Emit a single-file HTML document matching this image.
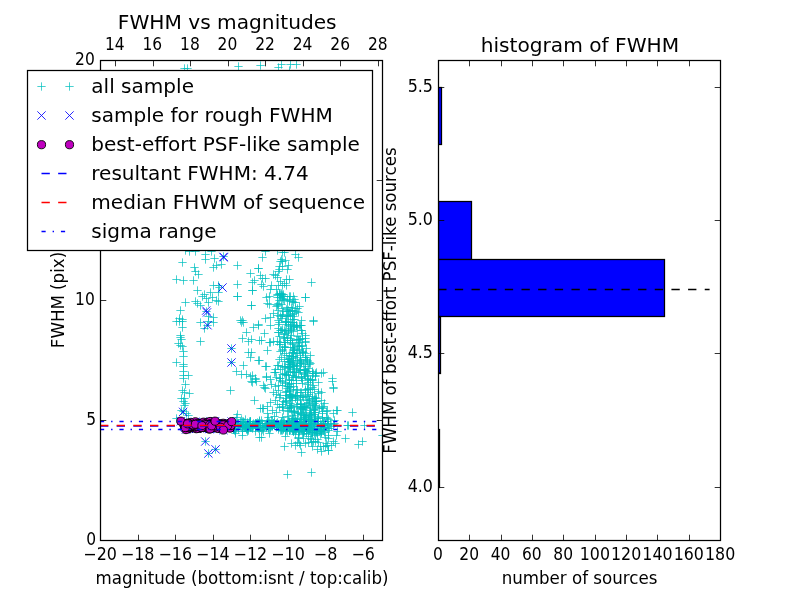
<!DOCTYPE html>
<html lang="en">
<head>
<meta charset="utf-8">
<title>FWHM vs magnitudes</title>
<style>
html,body{margin:0;padding:0;background:#fff;}
body{width:800px;height:600px;overflow:hidden;}
svg{display:block;}
text{font-family:"DejaVu Sans","Liberation Sans",sans-serif;fill:#000;}
.t{font-size:16.67px;}
.b{font-size:20px;}
.tk{stroke:#000;stroke-width:0.8;fill:none;}
.fr{stroke:#000;stroke-width:1.25;fill:none;stroke-linecap:square;}
.p{stroke:#00bfbf;stroke-width:0.72;fill:none;}
.x{stroke:#0000ff;stroke-width:0.85;fill:none;}
.c{fill:#bf00bf;stroke:#000;stroke-width:0.9;}
.ln{fill:none;stroke-width:1.4;}
</style>
</head>
<body>
<svg width="800" height="600" viewBox="0 0 800 600">
<rect x="0" y="0" width="800" height="600" fill="#fff"/>
<defs>
<clipPath id="c1"><rect x="100.5" y="60.5" width="282.0" height="480.0"/></clipPath>
<clipPath id="c2"><rect x="438.5" y="60.5" width="282.0" height="480.0"/></clipPath>
</defs>
<g clip-path="url(#c1)">
<path class="p" d="M180.33 68.5h8.34M184.5 64.33v8.34M183.33 68.5h8.34M187.5 64.33v8.34M234.33 66.5h8.34M238.5 62.33v8.34M256.33 65.5h8.34M260.5 61.33v8.34M274.33 67.5h8.34M278.5 63.33v8.34M277.33 64.5h8.34M281.5 60.33v8.34M286.33 64.5h8.34M290.5 60.33v8.34M285.33 70.5h8.34M289.5 66.33v8.34M292.33 64.5h8.34M296.5 60.33v8.34M178.33 262.5h8.34M182.5 258.33v8.34M190.33 267.5h8.34M194.5 263.33v8.34M191.33 271.5h8.34M195.5 267.33v8.34M194.33 274.5h8.34M198.5 270.33v8.34M172.33 279.5h8.34M176.5 275.33v8.34M179.33 280.5h8.34M183.5 276.33v8.34M189.33 280.5h8.34M193.5 276.33v8.34M201.33 254.5h8.34M205.5 250.33v8.34M201.33 259.5h8.34M205.5 255.33v8.34M210.33 258.5h8.34M214.5 254.33v8.34M191.33 251.5h8.34M195.5 247.33v8.34M185.33 251.5h8.34M189.5 247.33v8.34M181.33 250.5h8.34M185.5 246.33v8.34M207.33 251.5h8.34M211.5 247.33v8.34M219.33 256.5h8.34M223.5 252.33v8.34M217.33 264.5h8.34M221.5 260.33v8.34M212.33 265.5h8.34M216.5 261.33v8.34M209.33 267.5h8.34M213.5 263.33v8.34M233.33 265.5h8.34M237.5 261.33v8.34M246.33 273.5h8.34M250.5 269.33v8.34M254.33 268.5h8.34M258.5 264.33v8.34M256.33 275.5h8.34M260.5 271.33v8.34M250.33 280.5h8.34M254.5 276.33v8.34M248.33 282.5h8.34M252.5 278.33v8.34M248.33 290.5h8.34M252.5 286.33v8.34M233.33 284.5h8.34M237.5 280.33v8.34M233.33 296.5h8.34M237.5 292.33v8.34M247.33 305.5h8.34M251.5 301.33v8.34M209.33 285.5h8.34M213.5 281.33v8.34M214.33 285.5h8.34M218.5 281.33v8.34M215.33 287.5h8.34M219.5 283.33v8.34M193.33 290.5h8.34M197.5 286.33v8.34M206.33 292.5h8.34M210.5 288.33v8.34M214.33 292.5h8.34M218.5 288.33v8.34M200.33 294.5h8.34M204.5 290.33v8.34M198.33 296.5h8.34M202.5 292.33v8.34M202.33 298.5h8.34M206.5 294.33v8.34M208.33 297.5h8.34M212.5 293.33v8.34M212.33 300.5h8.34M216.5 296.33v8.34M214.33 301.5h8.34M218.5 297.33v8.34M204.33 302.5h8.34M208.5 298.33v8.34M181.33 302.5h8.34M185.5 298.33v8.34M191.33 301.5h8.34M195.5 297.33v8.34M193.33 303.5h8.34M197.5 299.33v8.34M196.33 305.5h8.34M200.5 301.33v8.34M176.33 310.5h8.34M180.5 306.33v8.34M175.33 318.5h8.34M179.5 314.33v8.34M178.33 319.5h8.34M182.5 315.33v8.34M204.33 316.5h8.34M208.5 312.33v8.34M209.33 317.5h8.34M213.5 313.33v8.34M202.33 311.5h8.34M206.5 307.33v8.34M238.33 320.5h8.34M242.5 316.33v8.34M236.33 320.5h8.34M240.5 316.33v8.34M258.33 257.5h8.34M262.5 253.33v8.34M261.33 251.5h8.34M265.5 247.33v8.34M273.33 250.5h8.34M277.5 246.33v8.34M278.33 252.5h8.34M282.5 248.33v8.34M280.33 252.5h8.34M284.5 248.33v8.34M291.33 254.5h8.34M295.5 250.33v8.34M294.33 257.5h8.34M298.5 253.33v8.34M277.33 259.5h8.34M281.5 255.33v8.34M281.33 260.5h8.34M285.5 256.33v8.34M276.33 261.5h8.34M280.5 257.33v8.34M278.33 261.5h8.34M282.5 257.33v8.34M284.33 265.5h8.34M288.5 261.33v8.34M275.33 266.5h8.34M279.5 262.33v8.34M278.33 266.5h8.34M282.5 262.33v8.34M283.33 269.5h8.34M287.5 265.33v8.34M275.33 269.5h8.34M279.5 265.33v8.34M274.33 271.5h8.34M278.5 267.33v8.34M269.33 274.5h8.34M273.5 270.33v8.34M271.33 275.5h8.34M275.5 271.33v8.34M273.33 277.5h8.34M277.5 273.33v8.34M258.33 278.5h8.34M262.5 274.33v8.34M261.33 278.5h8.34M265.5 274.33v8.34M282.33 279.5h8.34M286.5 275.33v8.34M285.33 279.5h8.34M289.5 275.33v8.34M276.33 281.5h8.34M280.5 277.33v8.34M280.33 283.5h8.34M284.5 279.33v8.34M282.33 285.5h8.34M286.5 281.33v8.34M278.33 285.5h8.34M282.5 281.33v8.34M274.33 285.5h8.34M278.5 281.33v8.34M267.33 285.5h8.34M271.5 281.33v8.34M259.33 286.5h8.34M263.5 282.33v8.34M266.33 289.5h8.34M270.5 285.33v8.34M272.33 289.5h8.34M276.5 285.33v8.34M307.33 282.5h8.34M311.5 278.33v8.34M257.33 284.5h8.34M261.5 280.33v8.34M254.33 268.5h8.34M258.5 264.33v8.34M301.33 297.5h8.34M305.5 293.33v8.34M172.33 321.5h8.34M176.5 317.33v8.34M175.33 321.5h8.34M179.5 317.33v8.34M178.33 321.5h8.34M182.5 317.33v8.34M178.33 327.5h8.34M182.5 323.33v8.34M196.33 322.5h8.34M200.5 318.33v8.34M204.33 321.5h8.34M208.5 317.33v8.34M209.33 322.5h8.34M213.5 318.33v8.34M200.33 328.5h8.34M204.5 324.33v8.34M203.33 325.5h8.34M207.5 321.33v8.34M196.33 341.5h8.34M200.5 337.33v8.34M176.33 335.5h8.34M180.5 331.33v8.34M176.33 337.5h8.34M180.5 333.33v8.34M177.33 339.5h8.34M181.5 335.33v8.34M174.33 343.5h8.34M178.5 339.33v8.34M176.33 345.5h8.34M180.5 341.33v8.34M178.33 346.5h8.34M182.5 342.33v8.34M179.33 351.5h8.34M183.5 347.33v8.34M179.33 356.5h8.34M183.5 352.33v8.34M172.33 362.5h8.34M176.5 358.33v8.34M179.33 364.5h8.34M183.5 360.33v8.34M179.33 366.5h8.34M183.5 362.33v8.34M179.33 371.5h8.34M183.5 367.33v8.34M179.33 375.5h8.34M183.5 371.33v8.34M184.33 375.5h8.34M188.5 371.33v8.34M179.33 378.5h8.34M183.5 374.33v8.34M181.33 384.5h8.34M185.5 380.33v8.34M178.33 390.5h8.34M182.5 386.33v8.34M180.33 392.5h8.34M184.5 388.33v8.34M185.33 393.5h8.34M189.5 389.33v8.34M227.33 348.5h8.34M231.5 344.33v8.34M227.33 362.5h8.34M231.5 358.33v8.34M226.33 390.5h8.34M230.5 386.33v8.34M237.33 322.5h8.34M241.5 318.33v8.34M239.33 322.5h8.34M243.5 318.33v8.34M249.33 327.5h8.34M253.5 323.33v8.34M254.33 325.5h8.34M258.5 321.33v8.34M242.33 332.5h8.34M246.5 328.33v8.34M238.33 338.5h8.34M242.5 334.33v8.34M244.33 341.5h8.34M248.5 337.33v8.34M247.33 339.5h8.34M251.5 335.33v8.34M255.33 340.5h8.34M259.5 336.33v8.34M244.33 352.5h8.34M248.5 348.33v8.34M247.33 352.5h8.34M251.5 348.33v8.34M246.33 357.5h8.34M250.5 353.33v8.34M254.33 360.5h8.34M258.5 356.33v8.34M239.33 365.5h8.34M243.5 361.33v8.34M232.33 371.5h8.34M236.5 367.33v8.34M237.33 374.5h8.34M241.5 370.33v8.34M242.33 374.5h8.34M246.5 370.33v8.34M246.33 376.5h8.34M250.5 372.33v8.34M248.33 375.5h8.34M252.5 371.33v8.34M251.33 378.5h8.34M255.5 374.33v8.34M247.33 381.5h8.34M251.5 377.33v8.34M252.33 381.5h8.34M256.5 377.33v8.34M233.33 296.5h8.34M237.5 292.33v8.34M248.33 290.5h8.34M252.5 286.33v8.34M247.33 305.5h8.34M251.5 301.33v8.34M254.33 324.5h8.34M258.5 320.33v8.34M257.33 340.5h8.34M261.5 336.33v8.34M260.33 333.5h8.34M264.5 329.33v8.34M261.33 318.5h8.34M265.5 314.33v8.34M263.33 350.5h8.34M267.5 346.33v8.34M266.33 342.5h8.34M270.5 338.33v8.34M262.33 366.5h8.34M266.5 362.33v8.34M262.33 297.5h8.34M266.5 293.33v8.34M265.33 296.5h8.34M269.5 292.33v8.34M263.33 303.5h8.34M267.5 299.33v8.34M265.33 304.5h8.34M269.5 300.33v8.34M266.33 317.5h8.34M270.5 313.33v8.34M269.33 313.5h8.34M273.5 309.33v8.34M266.33 325.5h8.34M270.5 321.33v8.34M301.33 297.5h8.34M305.5 293.33v8.34M309.33 320.5h8.34M313.5 316.33v8.34M297.33 320.5h8.34M301.5 316.33v8.34M295.33 306.5h8.34M299.5 302.33v8.34M301.33 335.5h8.34M305.5 331.33v8.34M301.33 338.5h8.34M305.5 334.33v8.34M301.33 342.5h8.34M305.5 338.33v8.34M302.33 348.5h8.34M306.5 344.33v8.34M306.33 355.5h8.34M310.5 351.33v8.34M306.33 363.5h8.34M310.5 359.33v8.34M312.33 372.5h8.34M316.5 368.33v8.34M317.33 373.5h8.34M321.5 369.33v8.34M319.33 372.5h8.34M323.5 368.33v8.34M328.33 378.5h8.34M332.5 374.33v8.34M329.33 388.5h8.34M333.5 384.33v8.34M265.33 342.5h8.34M269.5 338.33v8.34M269.33 341.5h8.34M273.5 337.33v8.34M255.33 360.5h8.34M259.5 356.33v8.34M261.33 366.5h8.34M265.5 362.33v8.34M260.33 387.5h8.34M264.5 383.33v8.34M262.33 377.5h8.34M266.5 373.33v8.34M309.33 321.5h8.34M313.5 317.33v8.34M177.33 398.5h8.34M181.5 394.33v8.34M180.33 398.5h8.34M184.5 394.33v8.34M179.33 401.5h8.34M183.5 397.33v8.34M181.33 403.5h8.34M185.5 399.33v8.34M180.33 405.5h8.34M184.5 401.33v8.34M177.33 410.5h8.34M181.5 406.33v8.34M182.33 413.5h8.34M186.5 409.33v8.34M184.33 415.5h8.34M188.5 411.33v8.34M172.33 418.5h8.34M176.5 414.33v8.34M179.33 411.5h8.34M183.5 407.33v8.34M233.33 414.5h8.34M237.5 410.33v8.34M250.33 400.5h8.34M254.5 396.33v8.34M256.33 408.5h8.34M260.5 404.33v8.34M231.33 433.5h8.34M235.5 429.33v8.34M201.33 441.5h8.34M205.5 437.33v8.34M211.33 449.5h8.34M215.5 445.33v8.34M204.33 453.5h8.34M208.5 449.33v8.34M255.33 437.5h8.34M259.5 433.33v8.34M258.33 408.5h8.34M262.5 404.33v8.34M257.33 437.5h8.34M261.5 433.33v8.34M280.33 446.5h8.34M284.5 442.33v8.34M297.33 452.5h8.34M301.5 448.33v8.34M295.33 443.5h8.34M299.5 439.33v8.34M313.33 449.5h8.34M317.5 445.33v8.34M317.33 451.5h8.34M321.5 447.33v8.34M324.33 450.5h8.34M328.5 446.33v8.34M341.33 438.5h8.34M345.5 434.33v8.34M333.33 410.5h8.34M337.5 406.33v8.34M344.33 425.5h8.34M348.5 421.33v8.34M329.33 387.5h8.34M333.5 383.33v8.34M328.33 381.5h8.34M332.5 377.33v8.34M348.33 412.5h8.34M352.5 408.33v8.34M332.33 410.5h8.34M336.5 406.33v8.34M354.33 444.5h8.34M358.5 440.33v8.34M358.33 441.5h8.34M362.5 437.33v8.34M343.33 425.5h8.34M347.5 421.33v8.34M360.33 425.5h8.34M364.5 421.33v8.34M378.33 435.5h8.34M382.5 431.33v8.34M283.33 474.5h8.34M287.5 470.33v8.34M307.33 472.5h8.34M311.5 468.33v8.34M323.33 445.5h8.34M327.5 441.33v8.34M327.33 445.5h8.34M331.5 441.33v8.34M331.33 443.5h8.34M335.5 439.33v8.34M321.33 446.5h8.34M325.5 442.33v8.34M307.33 442.5h8.34M311.5 438.33v8.34M309.33 441.5h8.34M313.5 437.33v8.34M323.33 410.5h8.34M327.5 406.33v8.34M323.33 418.5h8.34M327.5 414.33v8.34M329.33 413.5h8.34M333.5 409.33v8.34M326.33 423.5h8.34M330.5 419.33v8.34M333.33 431.5h8.34M337.5 427.33v8.34M332.33 435.5h8.34M336.5 431.33v8.34M329.33 441.5h8.34M333.5 437.33v8.34M322.33 443.5h8.34M326.5 439.33v8.34M324.33 450.5h8.34M328.5 446.33v8.34M285.33 301.5h8.34M289.5 297.33v8.34M278.33 294.5h8.34M282.5 290.33v8.34M273.33 294.5h8.34M277.5 290.33v8.34M273.33 304.5h8.34M277.5 300.33v8.34M277.33 304.5h8.34M281.5 300.33v8.34M290.33 299.5h8.34M294.5 295.33v8.34M293.33 308.5h8.34M297.5 304.33v8.34M279.33 294.5h8.34M283.5 290.33v8.34M278.33 296.5h8.34M282.5 292.33v8.34M286.33 315.5h8.34M290.5 311.33v8.34M284.33 310.5h8.34M288.5 306.33v8.34M276.33 294.5h8.34M280.5 290.33v8.34M279.33 311.5h8.34M283.5 307.33v8.34M278.33 308.5h8.34M282.5 304.33v8.34M278.33 314.5h8.34M282.5 310.33v8.34M291.33 308.5h8.34M295.5 304.33v8.34M294.33 312.5h8.34M298.5 308.33v8.34M285.33 296.5h8.34M289.5 292.33v8.34M273.33 297.5h8.34M277.5 293.33v8.34M285.33 311.5h8.34M289.5 307.33v8.34M289.33 316.5h8.34M293.5 312.33v8.34M282.33 309.5h8.34M286.5 305.33v8.34M284.33 315.5h8.34M288.5 311.33v8.34M288.33 310.5h8.34M292.5 306.33v8.34M288.33 310.5h8.34M292.5 306.33v8.34M285.33 300.5h8.34M289.5 296.33v8.34M275.33 293.5h8.34M279.5 289.33v8.34M286.33 296.5h8.34M290.5 292.33v8.34M279.33 296.5h8.34M283.5 292.33v8.34M283.33 316.5h8.34M287.5 312.33v8.34M287.33 307.5h8.34M291.5 303.33v8.34M282.33 316.5h8.34M286.5 312.33v8.34M289.33 302.5h8.34M293.5 298.33v8.34M276.33 297.5h8.34M280.5 293.33v8.34M283.33 299.5h8.34M287.5 295.33v8.34M280.33 300.5h8.34M284.5 296.33v8.34M291.33 302.5h8.34M295.5 298.33v8.34M286.33 311.5h8.34M290.5 307.33v8.34M292.33 311.5h8.34M296.5 307.33v8.34M288.33 314.5h8.34M292.5 310.33v8.34M274.33 303.5h8.34M278.5 299.33v8.34M274.33 310.5h8.34M278.5 306.33v8.34M278.33 298.5h8.34M282.5 294.33v8.34M275.33 294.5h8.34M279.5 290.33v8.34M273.33 295.5h8.34M277.5 291.33v8.34M276.33 316.5h8.34M280.5 312.33v8.34M279.33 299.5h8.34M283.5 295.33v8.34M289.33 296.5h8.34M293.5 292.33v8.34M273.33 305.5h8.34M277.5 301.33v8.34M277.33 295.5h8.34M281.5 291.33v8.34M273.33 315.5h8.34M277.5 311.33v8.34M277.33 318.5h8.34M281.5 314.33v8.34M283.33 307.5h8.34M287.5 303.33v8.34M288.33 319.5h8.34M292.5 315.33v8.34M275.33 300.5h8.34M279.5 296.33v8.34M290.33 313.5h8.34M294.5 309.33v8.34M288.33 301.5h8.34M292.5 297.33v8.34M290.33 319.5h8.34M294.5 315.33v8.34M278.33 315.5h8.34M282.5 311.33v8.34M272.33 306.5h8.34M276.5 302.33v8.34M277.33 293.5h8.34M281.5 289.33v8.34M283.33 311.5h8.34M287.5 307.33v8.34M301.33 357.5h8.34M305.5 353.33v8.34M280.33 334.5h8.34M284.5 330.33v8.34M289.33 327.5h8.34M293.5 323.33v8.34M289.33 356.5h8.34M293.5 352.33v8.34M280.33 346.5h8.34M284.5 342.33v8.34M294.33 346.5h8.34M298.5 342.33v8.34M278.33 350.5h8.34M282.5 346.33v8.34M298.33 351.5h8.34M302.5 347.33v8.34M285.33 358.5h8.34M289.5 354.33v8.34M277.33 357.5h8.34M281.5 353.33v8.34M296.33 325.5h8.34M300.5 321.33v8.34M298.33 352.5h8.34M302.5 348.33v8.34M283.33 359.5h8.34M287.5 355.33v8.34M273.33 341.5h8.34M277.5 337.33v8.34M289.33 358.5h8.34M293.5 354.33v8.34M301.33 357.5h8.34M305.5 353.33v8.34M280.33 353.5h8.34M284.5 349.33v8.34M289.33 331.5h8.34M293.5 327.33v8.34M277.33 330.5h8.34M281.5 326.33v8.34M287.33 356.5h8.34M291.5 352.33v8.34M288.33 343.5h8.34M292.5 339.33v8.34M289.33 356.5h8.34M293.5 352.33v8.34M286.33 340.5h8.34M290.5 336.33v8.34M293.33 327.5h8.34M297.5 323.33v8.34M292.33 326.5h8.34M296.5 322.33v8.34M288.33 342.5h8.34M292.5 338.33v8.34M280.33 342.5h8.34M284.5 338.33v8.34M281.33 342.5h8.34M285.5 338.33v8.34M290.33 350.5h8.34M294.5 346.33v8.34M289.33 350.5h8.34M293.5 346.33v8.34M288.33 344.5h8.34M292.5 340.33v8.34M289.33 347.5h8.34M293.5 343.33v8.34M292.33 339.5h8.34M296.5 335.33v8.34M285.33 355.5h8.34M289.5 351.33v8.34M295.33 342.5h8.34M299.5 338.33v8.34M284.33 325.5h8.34M288.5 321.33v8.34M275.33 322.5h8.34M279.5 318.33v8.34M297.33 346.5h8.34M301.5 342.33v8.34M290.33 326.5h8.34M294.5 322.33v8.34M295.33 325.5h8.34M299.5 321.33v8.34M286.33 328.5h8.34M290.5 324.33v8.34M294.33 339.5h8.34M298.5 335.33v8.34M286.33 326.5h8.34M290.5 322.33v8.34M282.33 333.5h8.34M286.5 329.33v8.34M290.33 348.5h8.34M294.5 344.33v8.34M283.33 337.5h8.34M287.5 333.33v8.34M275.33 344.5h8.34M279.5 340.33v8.34M302.33 359.5h8.34M306.5 355.33v8.34M274.33 324.5h8.34M278.5 320.33v8.34M276.33 351.5h8.34M280.5 347.33v8.34M293.33 336.5h8.34M297.5 332.33v8.34M297.33 330.5h8.34M301.5 326.33v8.34M276.33 342.5h8.34M280.5 338.33v8.34M284.33 322.5h8.34M288.5 318.33v8.34M288.33 322.5h8.34M292.5 318.33v8.34M299.33 352.5h8.34M303.5 348.33v8.34M286.33 322.5h8.34M290.5 318.33v8.34M298.33 333.5h8.34M302.5 329.33v8.34M287.33 330.5h8.34M291.5 326.33v8.34M278.33 329.5h8.34M282.5 325.33v8.34M281.33 322.5h8.34M285.5 318.33v8.34M284.33 332.5h8.34M288.5 328.33v8.34M283.33 340.5h8.34M287.5 336.33v8.34M274.33 320.5h8.34M278.5 316.33v8.34M278.33 349.5h8.34M282.5 345.33v8.34M280.33 338.5h8.34M284.5 334.33v8.34M288.33 352.5h8.34M292.5 348.33v8.34M288.33 353.5h8.34M292.5 349.33v8.34M286.33 347.5h8.34M290.5 343.33v8.34M292.33 353.5h8.34M296.5 349.33v8.34M275.33 336.5h8.34M279.5 332.33v8.34M292.33 325.5h8.34M296.5 321.33v8.34M276.33 330.5h8.34M280.5 326.33v8.34M293.33 353.5h8.34M297.5 349.33v8.34M281.33 331.5h8.34M285.5 327.33v8.34M286.33 338.5h8.34M290.5 334.33v8.34M297.33 330.5h8.34M301.5 326.33v8.34M301.33 341.5h8.34M305.5 337.33v8.34M274.33 332.5h8.34M278.5 328.33v8.34M287.33 335.5h8.34M291.5 331.33v8.34M274.33 328.5h8.34M278.5 324.33v8.34M284.33 330.5h8.34M288.5 326.33v8.34M281.33 321.5h8.34M285.5 317.33v8.34M287.33 329.5h8.34M291.5 325.33v8.34M295.33 350.5h8.34M299.5 346.33v8.34M282.33 355.5h8.34M286.5 351.33v8.34M296.33 359.5h8.34M300.5 355.33v8.34M298.33 345.5h8.34M302.5 341.33v8.34M296.33 355.5h8.34M300.5 351.33v8.34M289.33 352.5h8.34M293.5 348.33v8.34M294.33 340.5h8.34M298.5 336.33v8.34M301.33 353.5h8.34M305.5 349.33v8.34M280.33 347.5h8.34M284.5 343.33v8.34M282.33 321.5h8.34M286.5 317.33v8.34M287.33 324.5h8.34M291.5 320.33v8.34M293.33 345.5h8.34M297.5 341.33v8.34M296.33 339.5h8.34M300.5 335.33v8.34M289.33 349.5h8.34M293.5 345.33v8.34M295.33 346.5h8.34M299.5 342.33v8.34M280.33 330.5h8.34M284.5 326.33v8.34M295.33 349.5h8.34M299.5 345.33v8.34M284.33 359.5h8.34M288.5 355.33v8.34M295.33 339.5h8.34M299.5 335.33v8.34M275.33 344.5h8.34M279.5 340.33v8.34M292.33 325.5h8.34M296.5 321.33v8.34M274.33 332.5h8.34M278.5 328.33v8.34M289.33 322.5h8.34M293.5 318.33v8.34M281.33 347.5h8.34M285.5 343.33v8.34M286.33 340.5h8.34M290.5 336.33v8.34M282.33 324.5h8.34M286.5 320.33v8.34M275.33 359.5h8.34M279.5 355.33v8.34M298.33 338.5h8.34M302.5 334.33v8.34M279.33 337.5h8.34M283.5 333.33v8.34M291.33 357.5h8.34M295.5 353.33v8.34M297.33 325.5h8.34M301.5 321.33v8.34M290.33 365.5h8.34M294.5 361.33v8.34M291.33 395.5h8.34M295.5 391.33v8.34M276.33 395.5h8.34M280.5 391.33v8.34M287.33 360.5h8.34M291.5 356.33v8.34M284.33 372.5h8.34M288.5 368.33v8.34M271.33 372.5h8.34M275.5 368.33v8.34M285.33 390.5h8.34M289.5 386.33v8.34M311.33 397.5h8.34M315.5 393.33v8.34M286.33 371.5h8.34M290.5 367.33v8.34M296.33 399.5h8.34M300.5 395.33v8.34M272.33 377.5h8.34M276.5 373.33v8.34M285.33 364.5h8.34M289.5 360.33v8.34M287.33 397.5h8.34M291.5 393.33v8.34M287.33 380.5h8.34M291.5 376.33v8.34M308.33 398.5h8.34M312.5 394.33v8.34M309.33 385.5h8.34M313.5 381.33v8.34M278.33 381.5h8.34M282.5 377.33v8.34M306.33 389.5h8.34M310.5 385.33v8.34M274.33 385.5h8.34M278.5 381.33v8.34M296.33 397.5h8.34M300.5 393.33v8.34M300.33 373.5h8.34M304.5 369.33v8.34M305.33 399.5h8.34M309.5 395.33v8.34M290.33 372.5h8.34M294.5 368.33v8.34M278.33 366.5h8.34M282.5 362.33v8.34M285.33 396.5h8.34M289.5 392.33v8.34M298.33 396.5h8.34M302.5 392.33v8.34M274.33 365.5h8.34M278.5 361.33v8.34M280.33 373.5h8.34M284.5 369.33v8.34M301.33 370.5h8.34M305.5 366.33v8.34M292.33 389.5h8.34M296.5 385.33v8.34M285.33 380.5h8.34M289.5 376.33v8.34M305.33 362.5h8.34M309.5 358.33v8.34M293.33 365.5h8.34M297.5 361.33v8.34M286.33 394.5h8.34M290.5 390.33v8.34M288.33 369.5h8.34M292.5 365.33v8.34M310.33 398.5h8.34M314.5 394.33v8.34M296.33 360.5h8.34M300.5 356.33v8.34M301.33 395.5h8.34M305.5 391.33v8.34M303.33 360.5h8.34M307.5 356.33v8.34M314.33 393.5h8.34M318.5 389.33v8.34M276.33 369.5h8.34M280.5 365.33v8.34M308.33 380.5h8.34M312.5 376.33v8.34M304.33 388.5h8.34M308.5 384.33v8.34M276.33 378.5h8.34M280.5 374.33v8.34M314.33 391.5h8.34M318.5 387.33v8.34M278.33 385.5h8.34M282.5 381.33v8.34M296.33 370.5h8.34M300.5 366.33v8.34M289.33 364.5h8.34M293.5 360.33v8.34M281.33 383.5h8.34M285.5 379.33v8.34M285.33 384.5h8.34M289.5 380.33v8.34M297.33 378.5h8.34M301.5 374.33v8.34M285.33 395.5h8.34M289.5 391.33v8.34M296.33 369.5h8.34M300.5 365.33v8.34M290.33 372.5h8.34M294.5 368.33v8.34M284.33 386.5h8.34M288.5 382.33v8.34M289.33 386.5h8.34M293.5 382.33v8.34M286.33 361.5h8.34M290.5 357.33v8.34M308.33 387.5h8.34M312.5 383.33v8.34M289.33 389.5h8.34M293.5 385.33v8.34M312.33 398.5h8.34M316.5 394.33v8.34M300.33 369.5h8.34M304.5 365.33v8.34M292.33 371.5h8.34M296.5 367.33v8.34M286.33 367.5h8.34M290.5 363.33v8.34M285.33 386.5h8.34M289.5 382.33v8.34M311.33 375.5h8.34M315.5 371.33v8.34M273.33 365.5h8.34M277.5 361.33v8.34M303.33 375.5h8.34M307.5 371.33v8.34M310.33 389.5h8.34M314.5 385.33v8.34M308.33 373.5h8.34M312.5 369.33v8.34M303.33 389.5h8.34M307.5 385.33v8.34M284.33 375.5h8.34M288.5 371.33v8.34M281.33 366.5h8.34M285.5 362.33v8.34M281.33 374.5h8.34M285.5 370.33v8.34M291.33 398.5h8.34M295.5 394.33v8.34M297.33 392.5h8.34M301.5 388.33v8.34M284.33 361.5h8.34M288.5 357.33v8.34M291.33 396.5h8.34M295.5 392.33v8.34M293.33 395.5h8.34M297.5 391.33v8.34M281.33 392.5h8.34M285.5 388.33v8.34M303.33 361.5h8.34M307.5 357.33v8.34M301.33 370.5h8.34M305.5 366.33v8.34M309.33 373.5h8.34M313.5 369.33v8.34M303.33 384.5h8.34M307.5 380.33v8.34M270.33 372.5h8.34M274.5 368.33v8.34M301.33 390.5h8.34M305.5 386.33v8.34M286.33 397.5h8.34M290.5 393.33v8.34M308.33 379.5h8.34M312.5 375.33v8.34M288.33 375.5h8.34M292.5 371.33v8.34M285.33 379.5h8.34M289.5 375.33v8.34M306.33 392.5h8.34M310.5 388.33v8.34M293.33 390.5h8.34M297.5 386.33v8.34M302.33 372.5h8.34M306.5 368.33v8.34M297.33 363.5h8.34M301.5 359.33v8.34M271.33 369.5h8.34M275.5 365.33v8.34M314.33 382.5h8.34M318.5 378.33v8.34M292.33 395.5h8.34M296.5 391.33v8.34M288.33 363.5h8.34M292.5 359.33v8.34M283.33 388.5h8.34M287.5 384.33v8.34M297.33 376.5h8.34M301.5 372.33v8.34M301.33 389.5h8.34M305.5 385.33v8.34M286.33 364.5h8.34M290.5 360.33v8.34M304.33 382.5h8.34M308.5 378.33v8.34M280.33 367.5h8.34M284.5 363.33v8.34M292.33 366.5h8.34M296.5 362.33v8.34M311.33 373.5h8.34M315.5 369.33v8.34M306.33 380.5h8.34M310.5 376.33v8.34M283.33 386.5h8.34M287.5 382.33v8.34M303.33 378.5h8.34M307.5 374.33v8.34M288.33 396.5h8.34M292.5 392.33v8.34M305.33 364.5h8.34M309.5 360.33v8.34M292.33 383.5h8.34M296.5 379.33v8.34M286.33 394.5h8.34M290.5 390.33v8.34M285.33 391.5h8.34M289.5 387.33v8.34M287.33 383.5h8.34M291.5 379.33v8.34M278.33 374.5h8.34M282.5 370.33v8.34M295.33 370.5h8.34M299.5 366.33v8.34M283.33 368.5h8.34M287.5 364.33v8.34M286.33 387.5h8.34M290.5 383.33v8.34M292.33 368.5h8.34M296.5 364.33v8.34M285.33 362.5h8.34M289.5 358.33v8.34M281.33 382.5h8.34M285.5 378.33v8.34M289.33 366.5h8.34M293.5 362.33v8.34M308.33 371.5h8.34M312.5 367.33v8.34M289.33 372.5h8.34M293.5 368.33v8.34M311.33 376.5h8.34M315.5 372.33v8.34M300.33 374.5h8.34M304.5 370.33v8.34M304.33 368.5h8.34M308.5 364.33v8.34M291.33 376.5h8.34M295.5 372.33v8.34M282.33 395.5h8.34M286.5 391.33v8.34M293.33 360.5h8.34M297.5 356.33v8.34M303.33 396.5h8.34M307.5 392.33v8.34M282.33 374.5h8.34M286.5 370.33v8.34M303.33 371.5h8.34M307.5 367.33v8.34M299.33 364.5h8.34M303.5 360.33v8.34M281.33 398.5h8.34M285.5 394.33v8.34M299.33 397.5h8.34M303.5 393.33v8.34M288.33 362.5h8.34M292.5 358.33v8.34M308.33 396.5h8.34M312.5 392.33v8.34M284.33 366.5h8.34M288.5 362.33v8.34M301.33 376.5h8.34M305.5 372.33v8.34M285.33 367.5h8.34M289.5 363.33v8.34M276.33 380.5h8.34M280.5 376.33v8.34M301.33 369.5h8.34M305.5 365.33v8.34M295.33 361.5h8.34M299.5 357.33v8.34M280.33 361.5h8.34M284.5 357.33v8.34M298.33 383.5h8.34M302.5 379.33v8.34M294.33 372.5h8.34M298.5 368.33v8.34M292.33 377.5h8.34M296.5 373.33v8.34M297.33 377.5h8.34M301.5 373.33v8.34M304.33 379.5h8.34M308.5 375.33v8.34M282.33 391.5h8.34M286.5 387.33v8.34M275.33 378.5h8.34M279.5 374.33v8.34M289.33 377.5h8.34M293.5 373.33v8.34M298.33 380.5h8.34M302.5 376.33v8.34M296.33 363.5h8.34M300.5 359.33v8.34M292.33 380.5h8.34M296.5 376.33v8.34M282.33 375.5h8.34M286.5 371.33v8.34M304.33 394.5h8.34M308.5 390.33v8.34M317.33 392.5h8.34M321.5 388.33v8.34M306.33 379.5h8.34M310.5 375.33v8.34M301.33 366.5h8.34M305.5 362.33v8.34M297.33 362.5h8.34M301.5 358.33v8.34M285.33 366.5h8.34M289.5 362.33v8.34M296.33 392.5h8.34M300.5 388.33v8.34M287.33 396.5h8.34M291.5 392.33v8.34M278.33 417.5h8.34M282.5 413.33v8.34M319.33 406.5h8.34M323.5 402.33v8.34M291.33 423.5h8.34M295.5 419.33v8.34M302.33 426.5h8.34M306.5 422.33v8.34M319.33 421.5h8.34M323.5 417.33v8.34M313.33 418.5h8.34M317.5 414.33v8.34M303.33 403.5h8.34M307.5 399.33v8.34M294.33 413.5h8.34M298.5 409.33v8.34M299.33 433.5h8.34M303.5 429.33v8.34M285.33 425.5h8.34M289.5 421.33v8.34M316.33 425.5h8.34M320.5 421.33v8.34M318.33 408.5h8.34M322.5 404.33v8.34M296.33 419.5h8.34M300.5 415.33v8.34M282.33 400.5h8.34M286.5 396.33v8.34M301.33 420.5h8.34M305.5 416.33v8.34M288.33 430.5h8.34M292.5 426.33v8.34M277.33 422.5h8.34M281.5 418.33v8.34M293.33 412.5h8.34M297.5 408.33v8.34M302.33 407.5h8.34M306.5 403.33v8.34M300.33 406.5h8.34M304.5 402.33v8.34M293.33 404.5h8.34M297.5 400.33v8.34M305.33 405.5h8.34M309.5 401.33v8.34M300.33 429.5h8.34M304.5 425.33v8.34M306.33 408.5h8.34M310.5 404.33v8.34M307.33 419.5h8.34M311.5 415.33v8.34M307.33 415.5h8.34M311.5 411.33v8.34M283.33 408.5h8.34M287.5 404.33v8.34M288.33 418.5h8.34M292.5 414.33v8.34M279.33 401.5h8.34M283.5 397.33v8.34M290.33 418.5h8.34M294.5 414.33v8.34M300.33 406.5h8.34M304.5 402.33v8.34M291.33 421.5h8.34M295.5 417.33v8.34M279.33 410.5h8.34M283.5 406.33v8.34M308.33 430.5h8.34M312.5 426.33v8.34M305.33 400.5h8.34M309.5 396.33v8.34M300.33 415.5h8.34M304.5 411.33v8.34M287.33 407.5h8.34M291.5 403.33v8.34M309.33 401.5h8.34M313.5 397.33v8.34M307.33 423.5h8.34M311.5 419.33v8.34M299.33 409.5h8.34M303.5 405.33v8.34M295.33 426.5h8.34M299.5 422.33v8.34M293.33 421.5h8.34M297.5 417.33v8.34M289.33 429.5h8.34M293.5 425.33v8.34M315.33 408.5h8.34M319.5 404.33v8.34M319.33 425.5h8.34M323.5 421.33v8.34M318.33 411.5h8.34M322.5 407.33v8.34M306.33 421.5h8.34M310.5 417.33v8.34M317.33 433.5h8.34M321.5 429.33v8.34M300.33 423.5h8.34M304.5 419.33v8.34M296.33 424.5h8.34M300.5 420.33v8.34M286.33 407.5h8.34M290.5 403.33v8.34M278.33 430.5h8.34M282.5 426.33v8.34M296.33 403.5h8.34M300.5 399.33v8.34M278.33 404.5h8.34M282.5 400.33v8.34M307.33 423.5h8.34M311.5 419.33v8.34M305.33 425.5h8.34M309.5 421.33v8.34M310.33 412.5h8.34M314.5 408.33v8.34M319.33 430.5h8.34M323.5 426.33v8.34M289.33 431.5h8.34M293.5 427.33v8.34M278.33 406.5h8.34M282.5 402.33v8.34M306.33 428.5h8.34M310.5 424.33v8.34M296.33 428.5h8.34M300.5 424.33v8.34M310.33 403.5h8.34M314.5 399.33v8.34M296.33 406.5h8.34M300.5 402.33v8.34M288.33 400.5h8.34M292.5 396.33v8.34M292.33 424.5h8.34M296.5 420.33v8.34M312.33 432.5h8.34M316.5 428.33v8.34M296.33 421.5h8.34M300.5 417.33v8.34M297.33 414.5h8.34M301.5 410.33v8.34M293.33 423.5h8.34M297.5 419.33v8.34M317.33 429.5h8.34M321.5 425.33v8.34M285.33 405.5h8.34M289.5 401.33v8.34M279.33 425.5h8.34M283.5 421.33v8.34M314.33 416.5h8.34M318.5 412.33v8.34M292.33 406.5h8.34M296.5 402.33v8.34M323.33 428.5h8.34M327.5 424.33v8.34M309.33 409.5h8.34M313.5 405.33v8.34M307.33 416.5h8.34M311.5 412.33v8.34M304.33 402.5h8.34M308.5 398.33v8.34M298.33 426.5h8.34M302.5 422.33v8.34M318.33 413.5h8.34M322.5 409.33v8.34M281.33 402.5h8.34M285.5 398.33v8.34M317.33 407.5h8.34M321.5 403.33v8.34M318.33 417.5h8.34M322.5 413.33v8.34M301.33 407.5h8.34M305.5 403.33v8.34M306.33 425.5h8.34M310.5 421.33v8.34M284.33 411.5h8.34M288.5 407.33v8.34M309.33 428.5h8.34M313.5 424.33v8.34M311.33 405.5h8.34M315.5 401.33v8.34M299.33 419.5h8.34M303.5 415.33v8.34M286.33 430.5h8.34M290.5 426.33v8.34M310.33 410.5h8.34M314.5 406.33v8.34M287.33 405.5h8.34M291.5 401.33v8.34M290.33 411.5h8.34M294.5 407.33v8.34M322.33 411.5h8.34M326.5 407.33v8.34M323.33 424.5h8.34M327.5 420.33v8.34M320.33 403.5h8.34M324.5 399.33v8.34M300.33 427.5h8.34M304.5 423.33v8.34M287.33 406.5h8.34M291.5 402.33v8.34M278.33 407.5h8.34M282.5 403.33v8.34M306.33 413.5h8.34M310.5 409.33v8.34M300.33 417.5h8.34M304.5 413.33v8.34M297.33 404.5h8.34M301.5 400.33v8.34M300.33 425.5h8.34M304.5 421.33v8.34M300.33 419.5h8.34M304.5 415.33v8.34M311.33 407.5h8.34M315.5 403.33v8.34M313.33 426.5h8.34M317.5 422.33v8.34M301.33 423.5h8.34M305.5 419.33v8.34M287.33 410.5h8.34M291.5 406.33v8.34M307.33 414.5h8.34M311.5 410.33v8.34M297.33 421.5h8.34M301.5 417.33v8.34M299.33 415.5h8.34M303.5 411.33v8.34M292.33 422.5h8.34M296.5 418.33v8.34M299.33 422.5h8.34M303.5 418.33v8.34M283.33 416.5h8.34M287.5 412.33v8.34M314.33 418.5h8.34M318.5 414.33v8.34M289.33 431.5h8.34M293.5 427.33v8.34M307.33 419.5h8.34M311.5 415.33v8.34M311.33 417.5h8.34M315.5 413.33v8.34M322.33 417.5h8.34M326.5 413.33v8.34M297.33 407.5h8.34M301.5 403.33v8.34M324.33 425.5h8.34M328.5 421.33v8.34M289.33 412.5h8.34M293.5 408.33v8.34M296.33 413.5h8.34M300.5 409.33v8.34M297.33 414.5h8.34M301.5 410.33v8.34M310.33 409.5h8.34M314.5 405.33v8.34M294.33 431.5h8.34M298.5 427.33v8.34M287.33 427.5h8.34M291.5 423.33v8.34M308.33 404.5h8.34M312.5 400.33v8.34M304.33 421.5h8.34M308.5 417.33v8.34M296.33 407.5h8.34M300.5 403.33v8.34M311.33 421.5h8.34M315.5 417.33v8.34M302.33 415.5h8.34M306.5 411.33v8.34M296.33 404.5h8.34M300.5 400.33v8.34M295.33 428.5h8.34M299.5 424.33v8.34M285.33 408.5h8.34M289.5 404.33v8.34M293.33 400.5h8.34M297.5 396.33v8.34M298.33 408.5h8.34M302.5 404.33v8.34M305.33 414.5h8.34M309.5 410.33v8.34M311.33 412.5h8.34M315.5 408.33v8.34M312.33 401.5h8.34M316.5 397.33v8.34M317.33 426.5h8.34M321.5 422.33v8.34M277.33 421.5h8.34M281.5 417.33v8.34M295.33 432.5h8.34M299.5 428.33v8.34M286.33 403.5h8.34M290.5 399.33v8.34M284.33 426.5h8.34M288.5 422.33v8.34M292.33 430.5h8.34M296.5 426.33v8.34M310.33 430.5h8.34M314.5 426.33v8.34M310.33 422.5h8.34M314.5 418.33v8.34M310.33 428.5h8.34M314.5 424.33v8.34M300.33 418.5h8.34M304.5 414.33v8.34M295.33 430.5h8.34M299.5 426.33v8.34M299.33 407.5h8.34M303.5 403.33v8.34M282.33 401.5h8.34M286.5 397.33v8.34M302.33 416.5h8.34M306.5 412.33v8.34M318.33 429.5h8.34M322.5 425.33v8.34M305.33 415.5h8.34M309.5 411.33v8.34M297.33 428.5h8.34M301.5 424.33v8.34M308.33 432.5h8.34M312.5 428.33v8.34M306.33 421.5h8.34M310.5 417.33v8.34M297.33 423.5h8.34M301.5 419.33v8.34M302.33 433.5h8.34M306.5 429.33v8.34M312.33 430.5h8.34M316.5 426.33v8.34M318.33 421.5h8.34M322.5 417.33v8.34M301.33 412.5h8.34M305.5 408.33v8.34M298.33 426.5h8.34M302.5 422.33v8.34M310.33 414.5h8.34M314.5 410.33v8.34M298.33 409.5h8.34M302.5 405.33v8.34M301.33 417.5h8.34M305.5 413.33v8.34M310.33 433.5h8.34M314.5 429.33v8.34M290.33 411.5h8.34M294.5 407.33v8.34M310.33 419.5h8.34M314.5 415.33v8.34M311.33 401.5h8.34M315.5 397.33v8.34M291.33 418.5h8.34M295.5 414.33v8.34M317.33 400.5h8.34M321.5 396.33v8.34M310.33 420.5h8.34M314.5 416.33v8.34M305.33 430.5h8.34M309.5 426.33v8.34M304.33 421.5h8.34M308.5 417.33v8.34M309.33 423.5h8.34M313.5 419.33v8.34M288.33 415.5h8.34M292.5 411.33v8.34M311.33 406.5h8.34M315.5 402.33v8.34M299.33 431.5h8.34M303.5 427.33v8.34M304.33 427.5h8.34M308.5 423.33v8.34M296.33 408.5h8.34M300.5 404.33v8.34M306.33 410.5h8.34M310.5 406.33v8.34M304.33 431.5h8.34M308.5 427.33v8.34M312.33 401.5h8.34M316.5 397.33v8.34M300.33 419.5h8.34M304.5 415.33v8.34M302.33 400.5h8.34M306.5 396.33v8.34M302.33 431.5h8.34M306.5 427.33v8.34M307.33 439.5h8.34M311.5 435.33v8.34M281.33 436.5h8.34M285.5 432.33v8.34M291.33 434.5h8.34M295.5 430.33v8.34M316.33 446.5h8.34M320.5 442.33v8.34M311.33 435.5h8.34M315.5 431.33v8.34M294.33 437.5h8.34M298.5 433.33v8.34M308.33 434.5h8.34M312.5 430.33v8.34M296.33 445.5h8.34M300.5 441.33v8.34M304.33 442.5h8.34M308.5 438.33v8.34M319.33 446.5h8.34M323.5 442.33v8.34M287.33 443.5h8.34M291.5 439.33v8.34M293.33 442.5h8.34M297.5 438.33v8.34M294.33 438.5h8.34M298.5 434.33v8.34M291.33 445.5h8.34M295.5 441.33v8.34M299.33 438.5h8.34M303.5 434.33v8.34M314.33 442.5h8.34M318.5 438.33v8.34M306.33 438.5h8.34M310.5 434.33v8.34M313.33 439.5h8.34M317.5 435.33v8.34M308.33 446.5h8.34M312.5 442.33v8.34M321.33 437.5h8.34M325.5 433.33v8.34M301.33 443.5h8.34M305.5 439.33v8.34M311.33 441.5h8.34M315.5 437.33v8.34M262.33 376.5h8.34M266.5 372.33v8.34M266.33 379.5h8.34M270.5 375.33v8.34M259.33 385.5h8.34M263.5 381.33v8.34M261.33 388.5h8.34M265.5 384.33v8.34M267.33 384.5h8.34M271.5 380.33v8.34M271.33 386.5h8.34M275.5 382.33v8.34M269.33 392.5h8.34M273.5 388.33v8.34M272.33 394.5h8.34M276.5 390.33v8.34M266.33 402.5h8.34M270.5 398.33v8.34M263.33 406.5h8.34M267.5 402.33v8.34M259.33 408.5h8.34M263.5 404.33v8.34M275.33 397.5h8.34M279.5 393.33v8.34M271.33 400.5h8.34M275.5 396.33v8.34M268.33 410.5h8.34M272.5 406.33v8.34M272.33 412.5h8.34M276.5 408.33v8.34M263.33 413.5h8.34M267.5 409.33v8.34M275.33 407.5h8.34M279.5 403.33v8.34M251.33 379.5h8.34M255.5 375.33v8.34M248.33 382.5h8.34M252.5 378.33v8.34M273.33 404.5h8.34M277.5 400.33v8.34M270.33 416.5h8.34M274.5 412.33v8.34M264.33 417.5h8.34M268.5 413.33v8.34M274.33 390.5h8.34M278.5 386.33v8.34M269.33 424.5h8.34M273.5 420.33v8.34M288.33 428.5h8.34M292.5 424.33v8.34M254.33 423.5h8.34M258.5 419.33v8.34M289.33 421.5h8.34M293.5 417.33v8.34M283.33 425.5h8.34M287.5 421.33v8.34M246.33 425.5h8.34M250.5 421.33v8.34M257.33 420.5h8.34M261.5 416.33v8.34M288.33 422.5h8.34M292.5 418.33v8.34M231.33 428.5h8.34M235.5 424.33v8.34M287.33 420.5h8.34M291.5 416.33v8.34M267.33 424.5h8.34M271.5 420.33v8.34M283.33 431.5h8.34M287.5 427.33v8.34M274.33 427.5h8.34M278.5 423.33v8.34M234.33 424.5h8.34M238.5 420.33v8.34M266.33 426.5h8.34M270.5 422.33v8.34M279.33 423.5h8.34M283.5 419.33v8.34M291.33 425.5h8.34M295.5 421.33v8.34M274.33 429.5h8.34M278.5 425.33v8.34M260.33 426.5h8.34M264.5 422.33v8.34M279.33 427.5h8.34M283.5 423.33v8.34M282.33 424.5h8.34M286.5 420.33v8.34M283.33 425.5h8.34M287.5 421.33v8.34M280.33 425.5h8.34M284.5 421.33v8.34M289.33 429.5h8.34M293.5 425.33v8.34M288.33 422.5h8.34M292.5 418.33v8.34M268.33 425.5h8.34M272.5 421.33v8.34M241.33 426.5h8.34M245.5 422.33v8.34M275.33 427.5h8.34M279.5 423.33v8.34M253.33 422.5h8.34M257.5 418.33v8.34M263.33 424.5h8.34M267.5 420.33v8.34M238.33 435.5h8.34M242.5 431.33v8.34M254.33 428.5h8.34M258.5 424.33v8.34M236.33 421.5h8.34M240.5 417.33v8.34M239.33 421.5h8.34M243.5 417.33v8.34M269.33 423.5h8.34M273.5 419.33v8.34M230.33 428.5h8.34M234.5 424.33v8.34M231.33 431.5h8.34M235.5 427.33v8.34M261.33 425.5h8.34M265.5 421.33v8.34M267.33 425.5h8.34M271.5 421.33v8.34M257.33 430.5h8.34M261.5 426.33v8.34M292.33 426.5h8.34M296.5 422.33v8.34M293.33 419.5h8.34M297.5 415.33v8.34M246.33 427.5h8.34M250.5 423.33v8.34M241.33 425.5h8.34M245.5 421.33v8.34M234.33 429.5h8.34M238.5 425.33v8.34M287.33 426.5h8.34M291.5 422.33v8.34M259.33 431.5h8.34M263.5 427.33v8.34M233.33 423.5h8.34M237.5 419.33v8.34M269.33 424.5h8.34M273.5 420.33v8.34M293.33 426.5h8.34M297.5 422.33v8.34M246.33 421.5h8.34M250.5 417.33v8.34M293.33 423.5h8.34M297.5 419.33v8.34M273.33 422.5h8.34M277.5 418.33v8.34M239.33 427.5h8.34M243.5 423.33v8.34M293.33 427.5h8.34M297.5 423.33v8.34M231.33 425.5h8.34M235.5 421.33v8.34M246.33 421.5h8.34M250.5 417.33v8.34M289.33 430.5h8.34M293.5 426.33v8.34M285.33 430.5h8.34M289.5 426.33v8.34M276.33 427.5h8.34M280.5 423.33v8.34M272.33 426.5h8.34M276.5 422.33v8.34M238.33 425.5h8.34M242.5 421.33v8.34M279.33 429.5h8.34M283.5 425.33v8.34M249.33 423.5h8.34M253.5 419.33v8.34M268.33 425.5h8.34M272.5 421.33v8.34M250.33 424.5h8.34M254.5 420.33v8.34M246.33 427.5h8.34M250.5 423.33v8.34M240.33 427.5h8.34M244.5 423.33v8.34M244.33 428.5h8.34M248.5 424.33v8.34M229.33 429.5h8.34M233.5 425.33v8.34M277.33 425.5h8.34M281.5 421.33v8.34M291.33 426.5h8.34M295.5 422.33v8.34M243.33 431.5h8.34M247.5 427.33v8.34M288.33 423.5h8.34M292.5 419.33v8.34M238.33 424.5h8.34M242.5 420.33v8.34M291.33 425.5h8.34M295.5 421.33v8.34M285.33 423.5h8.34M289.5 419.33v8.34M251.33 423.5h8.34M255.5 419.33v8.34M284.33 421.5h8.34M288.5 417.33v8.34M238.33 426.5h8.34M242.5 422.33v8.34M243.33 429.5h8.34M247.5 425.33v8.34M266.33 427.5h8.34M270.5 423.33v8.34M238.33 427.5h8.34M242.5 423.33v8.34M256.33 423.5h8.34M260.5 419.33v8.34M239.33 424.5h8.34M243.5 420.33v8.34M251.33 431.5h8.34M255.5 427.33v8.34M240.33 422.5h8.34M244.5 418.33v8.34M289.33 425.5h8.34M293.5 421.33v8.34M236.33 426.5h8.34M240.5 422.33v8.34M288.33 425.5h8.34M292.5 421.33v8.34M273.33 426.5h8.34M277.5 422.33v8.34M248.33 428.5h8.34M252.5 424.33v8.34M246.33 426.5h8.34M250.5 422.33v8.34M295.33 428.5h8.34M299.5 424.33v8.34M295.33 426.5h8.34M299.5 422.33v8.34M248.33 424.5h8.34M252.5 420.33v8.34M289.33 430.5h8.34M293.5 426.33v8.34M248.33 427.5h8.34M252.5 423.33v8.34M294.33 430.5h8.34M298.5 426.33v8.34M251.33 426.5h8.34M255.5 422.33v8.34M238.33 431.5h8.34M242.5 427.33v8.34M264.33 425.5h8.34M268.5 421.33v8.34M241.33 419.5h8.34M245.5 415.33v8.34M243.33 428.5h8.34M247.5 424.33v8.34M267.33 426.5h8.34M271.5 422.33v8.34M280.33 426.5h8.34M284.5 422.33v8.34M276.33 425.5h8.34M280.5 421.33v8.34M234.33 426.5h8.34M238.5 422.33v8.34M269.33 423.5h8.34M273.5 419.33v8.34M242.33 425.5h8.34M246.5 421.33v8.34M270.33 424.5h8.34M274.5 420.33v8.34M268.33 420.5h8.34M272.5 416.33v8.34M242.33 429.5h8.34M246.5 425.33v8.34M256.33 427.5h8.34M260.5 423.33v8.34M277.33 430.5h8.34M281.5 426.33v8.34M251.33 427.5h8.34M255.5 423.33v8.34M285.33 427.5h8.34M289.5 423.33v8.34M230.33 422.5h8.34M234.5 418.33v8.34M289.33 419.5h8.34M293.5 415.33v8.34M246.33 426.5h8.34M250.5 422.33v8.34M241.33 426.5h8.34M245.5 422.33v8.34M239.33 422.5h8.34M243.5 418.33v8.34M253.33 425.5h8.34M257.5 421.33v8.34M263.33 425.5h8.34M267.5 421.33v8.34M258.33 423.5h8.34M262.5 419.33v8.34M276.33 425.5h8.34M280.5 421.33v8.34M283.33 427.5h8.34M287.5 423.33v8.34M276.33 423.5h8.34M280.5 419.33v8.34M254.33 425.5h8.34M258.5 421.33v8.34M287.33 424.5h8.34M291.5 420.33v8.34M292.33 421.5h8.34M296.5 417.33v8.34M264.33 425.5h8.34M268.5 421.33v8.34M265.33 433.5h8.34M269.5 429.33v8.34M243.33 426.5h8.34M247.5 422.33v8.34M241.33 427.5h8.34M245.5 423.33v8.34M283.33 426.5h8.34M287.5 422.33v8.34M231.33 429.5h8.34M235.5 425.33v8.34M242.33 428.5h8.34M246.5 424.33v8.34M230.33 422.5h8.34M234.5 418.33v8.34M264.33 423.5h8.34M268.5 419.33v8.34M276.33 430.5h8.34M280.5 426.33v8.34M277.33 429.5h8.34M281.5 425.33v8.34M232.33 428.5h8.34M236.5 424.33v8.34M262.33 427.5h8.34M266.5 423.33v8.34M247.33 427.5h8.34M251.5 423.33v8.34M238.33 427.5h8.34M242.5 423.33v8.34M268.33 426.5h8.34M272.5 422.33v8.34M267.33 424.5h8.34M271.5 420.33v8.34M279.33 428.5h8.34M283.5 424.33v8.34M291.33 430.5h8.34M295.5 426.33v8.34M255.33 420.5h8.34M259.5 416.33v8.34M264.33 428.5h8.34M268.5 424.33v8.34M255.33 430.5h8.34M259.5 426.33v8.34M251.33 423.5h8.34M255.5 419.33v8.34M245.33 423.5h8.34M249.5 419.33v8.34M294.33 428.5h8.34M298.5 424.33v8.34M282.33 430.5h8.34M286.5 426.33v8.34M285.33 422.5h8.34M289.5 418.33v8.34M232.33 417.5h8.34M236.5 413.33v8.34M291.33 424.5h8.34M295.5 420.33v8.34M245.33 421.5h8.34M249.5 417.33v8.34M253.33 427.5h8.34M257.5 423.33v8.34M264.33 428.5h8.34M268.5 424.33v8.34M262.33 426.5h8.34M266.5 422.33v8.34M230.33 430.5h8.34M234.5 426.33v8.34M281.33 431.5h8.34M285.5 427.33v8.34M291.33 421.5h8.34M295.5 417.33v8.34M288.33 421.5h8.34M292.5 417.33v8.34M288.33 429.5h8.34M292.5 425.33v8.34M246.33 426.5h8.34M250.5 422.33v8.34M274.33 424.5h8.34M278.5 420.33v8.34M290.33 429.5h8.34M294.5 425.33v8.34M270.33 425.5h8.34M274.5 421.33v8.34M258.33 429.5h8.34M262.5 425.33v8.34M292.33 424.5h8.34M296.5 420.33v8.34M272.33 427.5h8.34M276.5 423.33v8.34M237.33 419.5h8.34M241.5 415.33v8.34M263.33 421.5h8.34M267.5 417.33v8.34M246.33 421.5h8.34M250.5 417.33v8.34M238.33 426.5h8.34M242.5 422.33v8.34M237.33 427.5h8.34M241.5 423.33v8.34M256.33 427.5h8.34M260.5 423.33v8.34M248.33 425.5h8.34M252.5 421.33v8.34M265.33 426.5h8.34M269.5 422.33v8.34M285.33 422.5h8.34M289.5 418.33v8.34M272.33 423.5h8.34M276.5 419.33v8.34M242.33 424.5h8.34M246.5 420.33v8.34M265.33 422.5h8.34M269.5 418.33v8.34M270.33 422.5h8.34M274.5 418.33v8.34M245.33 426.5h8.34M249.5 422.33v8.34M243.33 422.5h8.34M247.5 418.33v8.34M268.33 425.5h8.34M272.5 421.33v8.34M229.33 421.5h8.34M233.5 417.33v8.34M244.33 430.5h8.34M248.5 426.33v8.34M266.33 423.5h8.34M270.5 419.33v8.34M295.33 425.5h8.34M299.5 421.33v8.34M248.33 425.5h8.34M252.5 421.33v8.34M233.33 423.5h8.34M237.5 419.33v8.34M287.33 424.5h8.34M291.5 420.33v8.34M254.33 425.5h8.34M258.5 421.33v8.34M258.33 425.5h8.34M262.5 421.33v8.34M244.33 424.5h8.34M248.5 420.33v8.34M293.33 425.5h8.34M297.5 421.33v8.34M251.33 423.5h8.34M255.5 419.33v8.34M252.33 423.5h8.34M256.5 419.33v8.34M285.33 421.5h8.34M289.5 417.33v8.34M284.33 420.5h8.34M288.5 416.33v8.34M278.33 424.5h8.34M282.5 420.33v8.34M279.33 420.5h8.34M283.5 416.33v8.34M276.33 426.5h8.34M280.5 422.33v8.34M290.33 429.5h8.34M294.5 425.33v8.34M229.33 429.5h8.34M233.5 425.33v8.34M280.33 422.5h8.34M284.5 418.33v8.34M293.33 423.5h8.34M297.5 419.33v8.34M267.33 420.5h8.34M271.5 416.33v8.34M287.33 428.5h8.34M291.5 424.33v8.34M269.33 423.5h8.34M273.5 419.33v8.34M259.33 427.5h8.34M263.5 423.33v8.34M277.33 424.5h8.34M281.5 420.33v8.34M266.33 428.5h8.34M270.5 424.33v8.34M254.33 423.5h8.34M258.5 419.33v8.34M285.33 430.5h8.34M289.5 426.33v8.34M262.33 423.5h8.34M266.5 419.33v8.34M249.33 426.5h8.34M253.5 422.33v8.34M238.33 421.5h8.34M242.5 417.33v8.34M234.33 423.5h8.34M238.5 419.33v8.34M290.33 422.5h8.34M294.5 418.33v8.34M285.33 430.5h8.34M289.5 426.33v8.34M293.33 426.5h8.34M297.5 422.33v8.34M290.33 428.5h8.34M294.5 424.33v8.34M229.33 429.5h8.34M233.5 425.33v8.34M262.33 426.5h8.34M266.5 422.33v8.34M290.33 426.5h8.34M294.5 422.33v8.34M295.33 421.5h8.34M299.5 417.33v8.34M263.33 420.5h8.34M267.5 416.33v8.34M255.33 425.5h8.34M259.5 421.33v8.34M252.33 423.5h8.34M256.5 419.33v8.34M292.33 423.5h8.34M296.5 419.33v8.34M274.33 424.5h8.34M278.5 420.33v8.34M254.33 425.5h8.34M258.5 421.33v8.34M255.33 421.5h8.34M259.5 417.33v8.34M287.33 424.5h8.34M291.5 420.33v8.34M293.33 422.5h8.34M297.5 418.33v8.34M270.33 425.5h8.34M274.5 421.33v8.34M295.33 423.5h8.34M299.5 419.33v8.34M324.33 430.5h8.34M328.5 426.33v8.34M301.33 419.5h8.34M305.5 415.33v8.34M324.33 438.5h8.34M328.5 434.33v8.34M313.33 433.5h8.34M317.5 429.33v8.34M320.33 432.5h8.34M324.5 428.33v8.34M324.33 435.5h8.34M328.5 431.33v8.34M310.33 424.5h8.34M314.5 420.33v8.34M301.33 424.5h8.34M305.5 420.33v8.34M313.33 431.5h8.34M317.5 427.33v8.34M302.33 428.5h8.34M306.5 424.33v8.34M317.33 431.5h8.34M321.5 427.33v8.34M308.33 432.5h8.34M312.5 428.33v8.34M297.33 425.5h8.34M301.5 421.33v8.34M310.33 426.5h8.34M314.5 422.33v8.34M320.33 421.5h8.34M324.5 417.33v8.34M296.33 422.5h8.34M300.5 418.33v8.34M316.33 434.5h8.34M320.5 430.33v8.34M319.33 427.5h8.34M323.5 423.33v8.34M315.33 431.5h8.34M319.5 427.33v8.34M305.33 421.5h8.34M309.5 417.33v8.34M330.33 420.5h8.34M334.5 416.33v8.34M316.33 423.5h8.34M320.5 419.33v8.34M301.33 426.5h8.34M305.5 422.33v8.34M322.33 427.5h8.34M326.5 423.33v8.34M301.33 426.5h8.34M305.5 422.33v8.34M314.33 428.5h8.34M318.5 424.33v8.34M324.33 419.5h8.34M328.5 415.33v8.34M298.33 434.5h8.34M302.5 430.33v8.34M307.33 426.5h8.34M311.5 422.33v8.34M321.33 423.5h8.34M325.5 419.33v8.34M305.33 427.5h8.34M309.5 423.33v8.34M299.33 430.5h8.34M303.5 426.33v8.34M308.33 421.5h8.34M312.5 417.33v8.34M311.33 424.5h8.34M315.5 420.33v8.34M327.33 426.5h8.34M331.5 422.33v8.34M316.33 430.5h8.34M320.5 426.33v8.34M317.33 424.5h8.34M321.5 420.33v8.34M304.33 436.5h8.34M308.5 432.33v8.34M325.33 428.5h8.34M329.5 424.33v8.34M307.33 432.5h8.34M311.5 428.33v8.34M306.33 420.5h8.34M310.5 416.33v8.34M317.33 431.5h8.34M321.5 427.33v8.34M329.33 424.5h8.34M333.5 420.33v8.34M304.33 419.5h8.34M308.5 415.33v8.34M303.33 430.5h8.34M307.5 426.33v8.34M306.33 429.5h8.34M310.5 425.33v8.34M323.33 421.5h8.34M327.5 417.33v8.34M304.33 427.5h8.34M308.5 423.33v8.34M302.33 429.5h8.34M306.5 425.33v8.34M330.33 423.5h8.34M334.5 419.33v8.34M300.33 431.5h8.34M304.5 427.33v8.34M314.33 421.5h8.34M318.5 417.33v8.34M298.33 428.5h8.34M302.5 424.33v8.34M300.33 427.5h8.34M304.5 423.33v8.34M304.33 421.5h8.34M308.5 417.33v8.34M302.33 424.5h8.34M306.5 420.33v8.34M297.33 429.5h8.34M301.5 425.33v8.34M319.33 423.5h8.34M323.5 419.33v8.34M320.33 427.5h8.34M324.5 423.33v8.34M299.33 424.5h8.34M303.5 420.33v8.34"/>
<path class="x" d="M219.33 252.73l8.34 8.34M219.33 261.07l8.34 -8.34M219.73 253.13l8.34 8.34M219.73 261.47l8.34 -8.34M218.33 283.33l8.34 8.34M218.33 291.67l8.34 -8.34M202.03 306.43l8.34 8.34M202.03 314.77l8.34 -8.34M202.83 308.23l8.34 8.34M202.83 316.57l8.34 -8.34M203.33 321.08l8.34 8.34M203.33 329.42l8.34 -8.34M227.33 344.33l8.34 8.34M227.33 352.67l8.34 -8.34M227.33 358.33l8.34 8.34M227.33 366.67l8.34 -8.34M178.93 407.73l8.34 8.34M178.93 416.07l8.34 -8.34M201.08 437.33l8.34 8.34M201.08 445.67l8.34 -8.34M211.43 445.23l8.34 8.34M211.43 453.57l8.34 -8.34M204.23 449.33l8.34 8.34M204.23 457.67l8.34 -8.34M184.63 424.23l8.34 8.34M184.63 432.57l8.34 -8.34M200.03 422.83l8.34 8.34M200.03 431.17l8.34 -8.34M186.13 419.13l8.34 8.34M186.13 427.47l8.34 -8.34M195.63 421.13l8.34 8.34M195.63 429.47l8.34 -8.34M225.33 420.03l8.34 8.34M225.33 428.37l8.34 -8.34M188.53 423.13l8.34 8.34M188.53 431.47l8.34 -8.34M189.43 420.93l8.34 8.34M189.43 429.27l8.34 -8.34M200.53 423.03l8.34 8.34M200.53 431.37l8.34 -8.34M191.13 423.13l8.34 8.34M191.13 431.47l8.34 -8.34M222.43 420.23l8.34 8.34M222.43 428.57l8.34 -8.34M190.43 420.63l8.34 8.34M190.43 428.97l8.34 -8.34M208.13 422.13l8.34 8.34M208.13 430.47l8.34 -8.34M184.33 424.43l8.34 8.34M184.33 432.77l8.34 -8.34M203.43 420.33l8.34 8.34M203.43 428.67l8.34 -8.34M216.13 421.13l8.34 8.34M216.13 429.47l8.34 -8.34M197.23 420.33l8.34 8.34M197.23 428.67l8.34 -8.34M193.53 419.83l8.34 8.34M193.53 428.17l8.34 -8.34M197.43 422.23l8.34 8.34M197.43 430.57l8.34 -8.34M220.03 421.93l8.34 8.34M220.03 430.27l8.34 -8.34M194.03 421.03l8.34 8.34M194.03 429.37l8.34 -8.34M205.83 420.83l8.34 8.34M205.83 429.17l8.34 -8.34M196.03 420.13l8.34 8.34M196.03 428.47l8.34 -8.34M181.53 421.43l8.34 8.34M181.53 429.77l8.34 -8.34M193.63 421.53l8.34 8.34M193.63 429.87l8.34 -8.34M213.43 422.23l8.34 8.34M213.43 430.57l8.34 -8.34M192.13 418.73l8.34 8.34M192.13 427.07l8.34 -8.34M216.33 423.33l8.34 8.34M216.33 431.67l8.34 -8.34M221.63 421.93l8.34 8.34M221.63 430.27l8.34 -8.34M191.83 420.83l8.34 8.34M191.83 429.17l8.34 -8.34M179.73 420.53l8.34 8.34M179.73 428.87l8.34 -8.34M195.53 419.43l8.34 8.34M195.53 427.77l8.34 -8.34M198.53 420.13l8.34 8.34M198.53 428.47l8.34 -8.34M190.53 419.43l8.34 8.34M190.53 427.77l8.34 -8.34M219.83 420.13l8.34 8.34M219.83 428.47l8.34 -8.34M187.23 423.13l8.34 8.34M187.23 431.47l8.34 -8.34M183.93 423.53l8.34 8.34M183.93 431.87l8.34 -8.34M213.23 420.13l8.34 8.34M213.23 428.47l8.34 -8.34M180.33 422.33l8.34 8.34M180.33 430.67l8.34 -8.34M188.03 421.63l8.34 8.34M188.03 429.97l8.34 -8.34M193.23 421.13l8.34 8.34M193.23 429.47l8.34 -8.34M193.53 421.73l8.34 8.34M193.53 430.07l8.34 -8.34M209.63 422.63l8.34 8.34M209.63 430.97l8.34 -8.34M206.23 424.03l8.34 8.34M206.23 432.37l8.34 -8.34M213.43 421.43l8.34 8.34M213.43 429.77l8.34 -8.34M211.83 423.03l8.34 8.34M211.83 431.37l8.34 -8.34M195.43 424.23l8.34 8.34M195.43 432.57l8.34 -8.34M216.33 421.43l8.34 8.34M216.33 429.77l8.34 -8.34M192.33 424.23l8.34 8.34M192.33 432.57l8.34 -8.34M208.13 422.23l8.34 8.34M208.13 430.57l8.34 -8.34M180.63 421.43l8.34 8.34M180.63 429.77l8.34 -8.34M217.13 422.13l8.34 8.34M217.13 430.47l8.34 -8.34M188.63 423.53l8.34 8.34M188.63 431.87l8.34 -8.34M182.53 420.13l8.34 8.34M182.53 428.47l8.34 -8.34M212.33 419.43l8.34 8.34M212.33 427.77l8.34 -8.34M218.93 422.93l8.34 8.34M218.93 431.27l8.34 -8.34M192.13 424.53l8.34 8.34M192.13 432.87l8.34 -8.34M199.13 423.33l8.34 8.34M199.13 431.67l8.34 -8.34M223.93 420.53l8.34 8.34M223.93 428.87l8.34 -8.34M219.03 419.13l8.34 8.34M219.03 427.47l8.34 -8.34M209.13 420.93l8.34 8.34M209.13 429.27l8.34 -8.34M212.53 421.53l8.34 8.34M212.53 429.87l8.34 -8.34M199.33 418.03l8.34 8.34M199.33 426.37l8.34 -8.34M184.63 421.13l8.34 8.34M184.63 429.47l8.34 -8.34M215.63 423.63l8.34 8.34M215.63 431.97l8.34 -8.34M217.83 422.03l8.34 8.34M217.83 430.37l8.34 -8.34M191.13 417.63l8.34 8.34M191.13 425.97l8.34 -8.34M209.53 420.33l8.34 8.34M209.53 428.67l8.34 -8.34M205.03 421.43l8.34 8.34M205.03 429.77l8.34 -8.34M195.83 421.93l8.34 8.34M195.83 430.27l8.34 -8.34M198.53 421.83l8.34 8.34M198.53 430.17l8.34 -8.34M185.03 422.63l8.34 8.34M185.03 430.97l8.34 -8.34M212.93 420.93l8.34 8.34M212.93 429.27l8.34 -8.34M190.13 420.43l8.34 8.34M190.13 428.77l8.34 -8.34M203.63 418.13l8.34 8.34M203.63 426.47l8.34 -8.34M195.53 422.63l8.34 8.34M195.53 430.97l8.34 -8.34M193.03 422.03l8.34 8.34M193.03 430.37l8.34 -8.34M205.93 420.93l8.34 8.34M205.93 429.27l8.34 -8.34M194.63 422.23l8.34 8.34M194.63 430.57l8.34 -8.34M215.63 419.73l8.34 8.34M215.63 428.07l8.34 -8.34M186.63 420.43l8.34 8.34M186.63 428.77l8.34 -8.34M200.93 419.63l8.34 8.34M200.93 427.97l8.34 -8.34M215.83 421.83l8.34 8.34M215.83 430.17l8.34 -8.34M192.53 420.83l8.34 8.34M192.53 429.17l8.34 -8.34M196.03 421.53l8.34 8.34M196.03 429.87l8.34 -8.34M192.13 421.93l8.34 8.34M192.13 430.27l8.34 -8.34M188.03 420.93l8.34 8.34M188.03 429.27l8.34 -8.34M183.83 419.83l8.34 8.34M183.83 428.17l8.34 -8.34M194.23 420.03l8.34 8.34M194.23 428.37l8.34 -8.34M186.53 421.73l8.34 8.34M186.53 430.07l8.34 -8.34M181.83 425.43l8.34 8.34M181.83 433.77l8.34 -8.34M215.13 421.73l8.34 8.34M215.13 430.07l8.34 -8.34M182.43 420.53l8.34 8.34M182.43 428.87l8.34 -8.34M205.93 417.33l8.34 8.34M205.93 425.67l8.34 -8.34M183.63 419.83l8.34 8.34M183.63 428.17l8.34 -8.34M187.63 421.53l8.34 8.34M187.63 429.87l8.34 -8.34M204.93 424.83l8.34 8.34M204.93 433.17l8.34 -8.34M209.93 421.63l8.34 8.34M209.93 429.97l8.34 -8.34M209.13 423.43l8.34 8.34M209.13 431.77l8.34 -8.34M190.63 420.53l8.34 8.34M190.63 428.87l8.34 -8.34M190.43 421.63l8.34 8.34M190.43 429.97l8.34 -8.34M216.23 421.73l8.34 8.34M216.23 430.07l8.34 -8.34M219.43 421.13l8.34 8.34M219.43 429.47l8.34 -8.34M209.63 422.33l8.34 8.34M209.63 430.67l8.34 -8.34M219.73 422.23l8.34 8.34M219.73 430.57l8.34 -8.34M216.73 421.03l8.34 8.34M216.73 429.37l8.34 -8.34M219.03 421.33l8.34 8.34M219.03 429.67l8.34 -8.34M187.33 420.13l8.34 8.34M187.33 428.47l8.34 -8.34M218.73 420.83l8.34 8.34M218.73 429.17l8.34 -8.34M205.33 422.73l8.34 8.34M205.33 431.07l8.34 -8.34M196.43 421.93l8.34 8.34M196.43 430.27l8.34 -8.34M180.33 420.43l8.34 8.34M180.33 428.77l8.34 -8.34M206.13 419.53l8.34 8.34M206.13 427.87l8.34 -8.34M212.93 419.43l8.34 8.34M212.93 427.77l8.34 -8.34M222.73 423.03l8.34 8.34M222.73 431.37l8.34 -8.34M202.83 420.83l8.34 8.34M202.83 429.17l8.34 -8.34M186.03 420.83l8.34 8.34M186.03 429.17l8.34 -8.34M182.23 423.33l8.34 8.34M182.23 431.67l8.34 -8.34M212.03 422.23l8.34 8.34M212.03 430.57l8.34 -8.34M225.83 422.83l8.34 8.34M225.83 431.17l8.34 -8.34M182.73 423.03l8.34 8.34M182.73 431.37l8.34 -8.34M187.63 421.83l8.34 8.34M187.63 430.17l8.34 -8.34M213.73 424.33l8.34 8.34M213.73 432.67l8.34 -8.34M220.23 421.53l8.34 8.34M220.23 429.87l8.34 -8.34M216.93 420.33l8.34 8.34M216.93 428.67l8.34 -8.34M210.73 422.03l8.34 8.34M210.73 430.37l8.34 -8.34M203.53 420.23l8.34 8.34M203.53 428.57l8.34 -8.34M199.83 422.03l8.34 8.34M199.83 430.37l8.34 -8.34M210.93 422.93l8.34 8.34M210.93 431.27l8.34 -8.34M186.43 418.53l8.34 8.34M186.43 426.87l8.34 -8.34M192.83 419.63l8.34 8.34M192.83 427.97l8.34 -8.34M195.43 422.13l8.34 8.34M195.43 430.47l8.34 -8.34M187.93 422.53l8.34 8.34M187.93 430.87l8.34 -8.34M200.93 422.13l8.34 8.34M200.93 430.47l8.34 -8.34M225.93 423.93l8.34 8.34M225.93 432.27l8.34 -8.34M226.03 419.83l8.34 8.34M226.03 428.17l8.34 -8.34M225.43 419.43l8.34 8.34M225.43 427.77l8.34 -8.34M181.23 419.53l8.34 8.34M181.23 427.87l8.34 -8.34M211.43 420.43l8.34 8.34M211.43 428.77l8.34 -8.34M206.33 420.63l8.34 8.34M206.33 428.97l8.34 -8.34M225.03 419.33l8.34 8.34M225.03 427.67l8.34 -8.34M193.03 421.73l8.34 8.34M193.03 430.07l8.34 -8.34M195.13 421.73l8.34 8.34M195.13 430.07l8.34 -8.34M187.63 421.23l8.34 8.34M187.63 429.57l8.34 -8.34M211.63 420.83l8.34 8.34M211.63 429.17l8.34 -8.34M210.73 421.63l8.34 8.34M210.73 429.97l8.34 -8.34M196.53 420.03l8.34 8.34M196.53 428.37l8.34 -8.34M204.33 420.63l8.34 8.34M204.33 428.97l8.34 -8.34M206.03 420.83l8.34 8.34M206.03 429.17l8.34 -8.34M187.13 421.83l8.34 8.34M187.13 430.17l8.34 -8.34M221.93 420.73l8.34 8.34M221.93 429.07l8.34 -8.34M220.53 421.23l8.34 8.34M220.53 429.57l8.34 -8.34M190.73 422.93l8.34 8.34M190.73 431.27l8.34 -8.34M190.63 422.43l8.34 8.34M190.63 430.77l8.34 -8.34M202.33 420.43l8.34 8.34M202.33 428.77l8.34 -8.34M206.43 421.03l8.34 8.34M206.43 429.37l8.34 -8.34M183.83 419.43l8.34 8.34M183.83 427.77l8.34 -8.34M182.23 421.23l8.34 8.34M182.23 429.57l8.34 -8.34M198.33 422.83l8.34 8.34M198.33 431.17l8.34 -8.34M220.63 422.13l8.34 8.34M220.63 430.47l8.34 -8.34M205.33 420.83l8.34 8.34M205.33 429.17l8.34 -8.34M183.93 418.93l8.34 8.34M183.93 427.27l8.34 -8.34M226.83 421.33l8.34 8.34M226.83 429.67l8.34 -8.34M219.03 420.73l8.34 8.34M219.03 429.07l8.34 -8.34M197.53 423.23l8.34 8.34M197.53 431.57l8.34 -8.34M205.93 424.73l8.34 8.34M205.93 433.07l8.34 -8.34M216.33 423.13l8.34 8.34M216.33 431.47l8.34 -8.34M181.13 423.43l8.34 8.34M181.13 431.77l8.34 -8.34M189.93 421.23l8.34 8.34M189.93 429.57l8.34 -8.34M207.43 421.63l8.34 8.34M207.43 429.97l8.34 -8.34M188.73 420.73l8.34 8.34M188.73 429.07l8.34 -8.34M176.73 417.03l8.34 8.34M176.73 425.37l8.34 -8.34M183.33 419.63l8.34 8.34M183.33 427.97l8.34 -8.34M191.23 420.08l8.34 8.34M191.23 428.42l8.34 -8.34M197.73 421.43l8.34 8.34M197.73 429.77l8.34 -8.34M210.93 417.03l8.34 8.34M210.93 425.37l8.34 -8.34M223.58 421.43l8.34 8.34M223.58 429.77l8.34 -8.34M219.23 425.83l8.34 8.34M219.23 434.17l8.34 -8.34M227.53 417.43l8.34 8.34M227.53 425.77l8.34 -8.34"/>
<circle class="c" cx="188.8" cy="428.4" r="4.1"/>
<circle class="c" cx="204.2" cy="427" r="4.1"/>
<circle class="c" cx="190.3" cy="423.3" r="4.1"/>
<circle class="c" cx="199.8" cy="425.3" r="4.1"/>
<circle class="c" cx="229.5" cy="424.2" r="4.1"/>
<circle class="c" cx="192.7" cy="427.3" r="4.1"/>
<circle class="c" cx="193.6" cy="425.1" r="4.1"/>
<circle class="c" cx="204.7" cy="427.2" r="4.1"/>
<circle class="c" cx="195.3" cy="427.3" r="4.1"/>
<circle class="c" cx="226.6" cy="424.4" r="4.1"/>
<circle class="c" cx="194.6" cy="424.8" r="4.1"/>
<circle class="c" cx="212.3" cy="426.3" r="4.1"/>
<circle class="c" cx="188.5" cy="428.6" r="4.1"/>
<circle class="c" cx="207.6" cy="424.5" r="4.1"/>
<circle class="c" cx="220.3" cy="425.3" r="4.1"/>
<circle class="c" cx="201.4" cy="424.5" r="4.1"/>
<circle class="c" cx="197.7" cy="424" r="4.1"/>
<circle class="c" cx="201.6" cy="426.4" r="4.1"/>
<circle class="c" cx="224.2" cy="426.1" r="4.1"/>
<circle class="c" cx="198.2" cy="425.2" r="4.1"/>
<circle class="c" cx="210" cy="425" r="4.1"/>
<circle class="c" cx="200.2" cy="424.3" r="4.1"/>
<circle class="c" cx="185.7" cy="425.6" r="4.1"/>
<circle class="c" cx="197.8" cy="425.7" r="4.1"/>
<circle class="c" cx="217.6" cy="426.4" r="4.1"/>
<circle class="c" cx="196.3" cy="422.9" r="4.1"/>
<circle class="c" cx="220.5" cy="427.5" r="4.1"/>
<circle class="c" cx="225.8" cy="426.1" r="4.1"/>
<circle class="c" cx="196" cy="425" r="4.1"/>
<circle class="c" cx="183.9" cy="424.7" r="4.1"/>
<circle class="c" cx="199.7" cy="423.6" r="4.1"/>
<circle class="c" cx="202.7" cy="424.3" r="4.1"/>
<circle class="c" cx="194.7" cy="423.6" r="4.1"/>
<circle class="c" cx="224" cy="424.3" r="4.1"/>
<circle class="c" cx="191.4" cy="427.3" r="4.1"/>
<circle class="c" cx="188.1" cy="427.7" r="4.1"/>
<circle class="c" cx="217.4" cy="424.3" r="4.1"/>
<circle class="c" cx="184.5" cy="426.5" r="4.1"/>
<circle class="c" cx="192.2" cy="425.8" r="4.1"/>
<circle class="c" cx="197.4" cy="425.3" r="4.1"/>
<circle class="c" cx="197.7" cy="425.9" r="4.1"/>
<circle class="c" cx="213.8" cy="426.8" r="4.1"/>
<circle class="c" cx="210.4" cy="428.2" r="4.1"/>
<circle class="c" cx="217.6" cy="425.6" r="4.1"/>
<circle class="c" cx="216" cy="427.2" r="4.1"/>
<circle class="c" cx="199.6" cy="428.4" r="4.1"/>
<circle class="c" cx="220.5" cy="425.6" r="4.1"/>
<circle class="c" cx="196.5" cy="428.4" r="4.1"/>
<circle class="c" cx="212.3" cy="426.4" r="4.1"/>
<circle class="c" cx="184.8" cy="425.6" r="4.1"/>
<circle class="c" cx="221.3" cy="426.3" r="4.1"/>
<circle class="c" cx="192.8" cy="427.7" r="4.1"/>
<circle class="c" cx="186.7" cy="424.3" r="4.1"/>
<circle class="c" cx="216.5" cy="423.6" r="4.1"/>
<circle class="c" cx="223.1" cy="427.1" r="4.1"/>
<circle class="c" cx="196.3" cy="428.7" r="4.1"/>
<circle class="c" cx="203.3" cy="427.5" r="4.1"/>
<circle class="c" cx="228.1" cy="424.7" r="4.1"/>
<circle class="c" cx="223.2" cy="423.3" r="4.1"/>
<circle class="c" cx="213.3" cy="425.1" r="4.1"/>
<circle class="c" cx="216.7" cy="425.7" r="4.1"/>
<circle class="c" cx="203.5" cy="422.2" r="4.1"/>
<circle class="c" cx="188.8" cy="425.3" r="4.1"/>
<circle class="c" cx="219.8" cy="427.8" r="4.1"/>
<circle class="c" cx="222" cy="426.2" r="4.1"/>
<circle class="c" cx="195.3" cy="421.8" r="4.1"/>
<circle class="c" cx="213.7" cy="424.5" r="4.1"/>
<circle class="c" cx="209.2" cy="425.6" r="4.1"/>
<circle class="c" cx="200" cy="426.1" r="4.1"/>
<circle class="c" cx="202.7" cy="426" r="4.1"/>
<circle class="c" cx="189.2" cy="426.8" r="4.1"/>
<circle class="c" cx="217.1" cy="425.1" r="4.1"/>
<circle class="c" cx="194.3" cy="424.6" r="4.1"/>
<circle class="c" cx="207.8" cy="422.3" r="4.1"/>
<circle class="c" cx="199.7" cy="426.8" r="4.1"/>
<circle class="c" cx="197.2" cy="426.2" r="4.1"/>
<circle class="c" cx="210.1" cy="425.1" r="4.1"/>
<circle class="c" cx="198.8" cy="426.4" r="4.1"/>
<circle class="c" cx="219.8" cy="423.9" r="4.1"/>
<circle class="c" cx="190.8" cy="424.6" r="4.1"/>
<circle class="c" cx="205.1" cy="423.8" r="4.1"/>
<circle class="c" cx="220" cy="426" r="4.1"/>
<circle class="c" cx="196.7" cy="425" r="4.1"/>
<circle class="c" cx="200.2" cy="425.7" r="4.1"/>
<circle class="c" cx="196.3" cy="426.1" r="4.1"/>
<circle class="c" cx="192.2" cy="425.1" r="4.1"/>
<circle class="c" cx="188" cy="424" r="4.1"/>
<circle class="c" cx="198.4" cy="424.2" r="4.1"/>
<circle class="c" cx="190.7" cy="425.9" r="4.1"/>
<circle class="c" cx="186" cy="429.6" r="4.1"/>
<circle class="c" cx="219.3" cy="425.9" r="4.1"/>
<circle class="c" cx="186.6" cy="424.7" r="4.1"/>
<circle class="c" cx="210.1" cy="421.5" r="4.1"/>
<circle class="c" cx="187.8" cy="424" r="4.1"/>
<circle class="c" cx="191.8" cy="425.7" r="4.1"/>
<circle class="c" cx="209.1" cy="429" r="4.1"/>
<circle class="c" cx="214.1" cy="425.8" r="4.1"/>
<circle class="c" cx="213.3" cy="427.6" r="4.1"/>
<circle class="c" cx="194.8" cy="424.7" r="4.1"/>
<circle class="c" cx="194.6" cy="425.8" r="4.1"/>
<circle class="c" cx="220.4" cy="425.9" r="4.1"/>
<circle class="c" cx="223.6" cy="425.3" r="4.1"/>
<circle class="c" cx="213.8" cy="426.5" r="4.1"/>
<circle class="c" cx="223.9" cy="426.4" r="4.1"/>
<circle class="c" cx="220.9" cy="425.2" r="4.1"/>
<circle class="c" cx="223.2" cy="425.5" r="4.1"/>
<circle class="c" cx="191.5" cy="424.3" r="4.1"/>
<circle class="c" cx="222.9" cy="425" r="4.1"/>
<circle class="c" cx="209.5" cy="426.9" r="4.1"/>
<circle class="c" cx="200.6" cy="426.1" r="4.1"/>
<circle class="c" cx="184.5" cy="424.6" r="4.1"/>
<circle class="c" cx="210.3" cy="423.7" r="4.1"/>
<circle class="c" cx="217.1" cy="423.6" r="4.1"/>
<circle class="c" cx="226.9" cy="427.2" r="4.1"/>
<circle class="c" cx="207" cy="425" r="4.1"/>
<circle class="c" cx="190.2" cy="425" r="4.1"/>
<circle class="c" cx="186.4" cy="427.5" r="4.1"/>
<circle class="c" cx="216.2" cy="426.4" r="4.1"/>
<circle class="c" cx="230" cy="427" r="4.1"/>
<circle class="c" cx="186.9" cy="427.2" r="4.1"/>
<circle class="c" cx="191.8" cy="426" r="4.1"/>
<circle class="c" cx="217.9" cy="428.5" r="4.1"/>
<circle class="c" cx="224.4" cy="425.7" r="4.1"/>
<circle class="c" cx="221.1" cy="424.5" r="4.1"/>
<circle class="c" cx="214.9" cy="426.2" r="4.1"/>
<circle class="c" cx="207.7" cy="424.4" r="4.1"/>
<circle class="c" cx="204" cy="426.2" r="4.1"/>
<circle class="c" cx="215.1" cy="427.1" r="4.1"/>
<circle class="c" cx="190.6" cy="422.7" r="4.1"/>
<circle class="c" cx="197" cy="423.8" r="4.1"/>
<circle class="c" cx="199.6" cy="426.3" r="4.1"/>
<circle class="c" cx="192.1" cy="426.7" r="4.1"/>
<circle class="c" cx="205.1" cy="426.3" r="4.1"/>
<circle class="c" cx="230.1" cy="428.1" r="4.1"/>
<circle class="c" cx="230.2" cy="424" r="4.1"/>
<circle class="c" cx="229.6" cy="423.6" r="4.1"/>
<circle class="c" cx="185.4" cy="423.7" r="4.1"/>
<circle class="c" cx="215.6" cy="424.6" r="4.1"/>
<circle class="c" cx="210.5" cy="424.8" r="4.1"/>
<circle class="c" cx="229.2" cy="423.5" r="4.1"/>
<circle class="c" cx="197.2" cy="425.9" r="4.1"/>
<circle class="c" cx="199.3" cy="425.9" r="4.1"/>
<circle class="c" cx="191.8" cy="425.4" r="4.1"/>
<circle class="c" cx="215.8" cy="425" r="4.1"/>
<circle class="c" cx="214.9" cy="425.8" r="4.1"/>
<circle class="c" cx="200.7" cy="424.2" r="4.1"/>
<circle class="c" cx="208.5" cy="424.8" r="4.1"/>
<circle class="c" cx="210.2" cy="425" r="4.1"/>
<circle class="c" cx="191.3" cy="426" r="4.1"/>
<circle class="c" cx="226.1" cy="424.9" r="4.1"/>
<circle class="c" cx="224.7" cy="425.4" r="4.1"/>
<circle class="c" cx="194.9" cy="427.1" r="4.1"/>
<circle class="c" cx="194.8" cy="426.6" r="4.1"/>
<circle class="c" cx="206.5" cy="424.6" r="4.1"/>
<circle class="c" cx="210.6" cy="425.2" r="4.1"/>
<circle class="c" cx="188" cy="423.6" r="4.1"/>
<circle class="c" cx="186.4" cy="425.4" r="4.1"/>
<circle class="c" cx="202.5" cy="427" r="4.1"/>
<circle class="c" cx="224.8" cy="426.3" r="4.1"/>
<circle class="c" cx="209.5" cy="425" r="4.1"/>
<circle class="c" cx="188.1" cy="423.1" r="4.1"/>
<circle class="c" cx="231" cy="425.5" r="4.1"/>
<circle class="c" cx="223.2" cy="424.9" r="4.1"/>
<circle class="c" cx="201.7" cy="427.4" r="4.1"/>
<circle class="c" cx="210.1" cy="428.9" r="4.1"/>
<circle class="c" cx="220.5" cy="427.3" r="4.1"/>
<circle class="c" cx="185.3" cy="427.6" r="4.1"/>
<circle class="c" cx="194.1" cy="425.4" r="4.1"/>
<circle class="c" cx="211.6" cy="425.8" r="4.1"/>
<circle class="c" cx="192.9" cy="424.9" r="4.1"/>
<circle class="c" cx="180.9" cy="421.2" r="4.1"/>
<circle class="c" cx="187.5" cy="423.8" r="4.1"/>
<circle class="c" cx="195.4" cy="424.25" r="4.1"/>
<circle class="c" cx="201.9" cy="425.6" r="4.1"/>
<circle class="c" cx="215.1" cy="421.2" r="4.1"/>
<circle class="c" cx="227.75" cy="425.6" r="4.1"/>
<circle class="c" cx="223.4" cy="430" r="4.1"/>
<circle class="c" cx="231.7" cy="421.6" r="4.1"/>
<path class="ln" d="M100.0 426.1H377.0" stroke="#0000ff" stroke-dasharray="8.33 8.33"/>
<path class="ln" d="M100.0 425.5H377.0" stroke="#ff0000" stroke-dasharray="8.33 8.33"/>
<path class="ln" d="M100.0 429.5H377.0" stroke="#0000ff" stroke-dasharray="4.17 6.94 1.39 6.94"/>
<path class="ln" d="M100.0 421.5H377.0" stroke="#0000ff" stroke-dasharray="4.17 6.94 1.39 6.94"/>
</g>
<path class="tk" d="M100.5 540.5v-5.8M138.5 540.5v-5.8M175.5 540.5v-5.8M213.5 540.5v-5.8M250.5 540.5v-5.8M288.5 540.5v-5.8M325.5 540.5v-5.8M363.5 540.5v-5.8M115.5 60.5v5.8M153.5 60.5v5.8M190.5 60.5v5.8M228.5 60.5v5.8M265.5 60.5v5.8M303.5 60.5v5.8M340.5 60.5v5.8M378.5 60.5v5.8M100.5 540.5h5.8M382.5 540.5h-5.8M100.5 420.5h5.8M382.5 420.5h-5.8M100.5 300.5h5.8M382.5 300.5h-5.8M100.5 180.5h5.8M382.5 180.5h-5.8M100.5 60.5h5.8M382.5 60.5h-5.8"/>
<rect class="fr" x="100.5" y="60.5" width="282.0" height="480.0"/>
<text class="t" transform="translate(100.10 560.00) scale(0.955 1.030)" text-anchor="middle">−20</text>
<text class="t" transform="translate(137.68 560.00) scale(0.955 1.030)" text-anchor="middle">−18</text>
<text class="t" transform="translate(175.25 560.00) scale(0.955 1.030)" text-anchor="middle">−16</text>
<text class="t" transform="translate(212.83 560.00) scale(0.955 1.030)" text-anchor="middle">−14</text>
<text class="t" transform="translate(250.40 560.00) scale(0.955 1.030)" text-anchor="middle">−12</text>
<text class="t" transform="translate(287.98 560.00) scale(0.955 1.030)" text-anchor="middle">−10</text>
<text class="t" transform="translate(325.56 560.00) scale(0.955 1.030)" text-anchor="middle">−8</text>
<text class="t" transform="translate(363.13 560.00) scale(0.955 1.030)" text-anchor="middle">−6</text>
<text class="t" transform="translate(114.73 50.00) scale(0.930 1.030)" text-anchor="middle">14</text>
<text class="t" transform="translate(152.31 50.00) scale(0.930 1.030)" text-anchor="middle">16</text>
<text class="t" transform="translate(189.88 50.00) scale(0.930 1.030)" text-anchor="middle">18</text>
<text class="t" transform="translate(227.46 50.00) scale(0.930 1.030)" text-anchor="middle">20</text>
<text class="t" transform="translate(265.03 50.00) scale(0.930 1.030)" text-anchor="middle">22</text>
<text class="t" transform="translate(302.61 50.00) scale(0.930 1.030)" text-anchor="middle">24</text>
<text class="t" transform="translate(340.19 50.00) scale(0.930 1.030)" text-anchor="middle">26</text>
<text class="t" transform="translate(377.76 50.00) scale(0.930 1.030)" text-anchor="middle">28</text>
<text class="t" transform="translate(96.00 545.00) scale(0.930 1.030)" text-anchor="end">0</text>
<text class="t" transform="translate(96.00 425.00) scale(0.930 1.030)" text-anchor="end">5</text>
<text class="t" transform="translate(94.80 305.00) scale(0.930 1.030)" text-anchor="end">10</text>
<text class="t" transform="translate(94.80 185.00) scale(0.930 1.030)" text-anchor="end">15</text>
<text class="t" transform="translate(94.80 65.00) scale(0.930 1.030)" text-anchor="end">20</text>
<text class="b" transform="translate(227.20 29.00) scale(1.008 0.975)" text-anchor="middle">FWHM vs magnitudes</text>
<text class="t" transform="translate(242.00 583.60) scale(1.000 1.040)" text-anchor="middle">magnitude (bottom:isnt / top:calib)</text>
<text class="t" transform="translate(64.00 300.00) rotate(-90) scale(1.000 1.040)" text-anchor="middle">FWHM (pix)</text>
<rect x="27.5" y="70.5" width="345.0" height="180.0" fill="#fff" stroke="#000" stroke-width="1.25"/>
<path class="p" d="M37.33 86.5h8.34M41.5 82.33v8.34M65.33 86.5h8.34M69.5 82.33v8.34"/>
<path class="x" d="M37.33 111.33l8.34 8.34M37.33 119.67l8.34 -8.34M65.33 111.33l8.34 8.34M65.33 119.67l8.34 -8.34"/>
<circle class="c" cx="41.5" cy="144.7" r="4.1"/>
<circle class="c" cx="69.5" cy="144.7" r="4.1"/>
<path class="ln" d="M41.5 173.5H69.5" stroke="#0000ff" stroke-dasharray="8.33 8.33"/>
<path class="ln" d="M41.5 202.5H69.5" stroke="#ff0000" stroke-dasharray="8.33 8.33"/>
<path class="ln" d="M41.5 231.5H69.5" stroke="#0000ff" stroke-dasharray="4.17 6.94 1.39 6.94"/>
<text class="b" transform="translate(91.30 93.00) scale(1.003 0.975)">all sample</text>
<text class="b" transform="translate(91.30 122.00) scale(1.003 0.975)">sample for rough FWHM</text>
<text class="b" transform="translate(91.30 151.00) scale(1.003 0.975)">best-effort PSF-like sample</text>
<text class="b" transform="translate(91.30 180.00) scale(1.003 0.975)">resultant FWHM: 4.74</text>
<text class="b" transform="translate(91.30 209.00) scale(1.003 0.975)">median FHWM of sequence</text>
<text class="b" transform="translate(91.30 238.00) scale(1.003 0.975)">sigma range</text>
<g clip-path="url(#c2)">
<rect x="438.5" y="87.5" width="3.0" height="57.0" fill="#0000ff" stroke="#000" stroke-width="1.25"/>
<rect x="438.5" y="201.5" width="33.0" height="58.0" fill="#0000ff" stroke="#000" stroke-width="1.25"/>
<rect x="438.5" y="259.5" width="226.0" height="57.0" fill="#0000ff" stroke="#000" stroke-width="1.25"/>
<rect x="438.5" y="316.5" width="2.0" height="57.0" fill="#0000ff" stroke="#000" stroke-width="1.25"/>
<rect x="438.5" y="429.5" width="1.0" height="58.0" fill="#0000ff" stroke="#000" stroke-width="1.25"/>
<path class="ln" d="M438.18 289.5H709.6" stroke="#000" stroke-dasharray="8.33 8.33"/>
</g>
<path class="tk" d="M438.5 540.5v-5.8M438.5 60.5v5.8M469.5 540.5v-5.8M469.5 60.5v5.8M501.5 540.5v-5.8M501.5 60.5v5.8M532.5 540.5v-5.8M532.5 60.5v5.8M563.5 540.5v-5.8M563.5 60.5v5.8M595.5 540.5v-5.8M595.5 60.5v5.8M626.5 540.5v-5.8M626.5 60.5v5.8M657.5 540.5v-5.8M657.5 60.5v5.8M689.5 540.5v-5.8M689.5 60.5v5.8M720.5 540.5v-5.8M720.5 60.5v5.8M438.5 487.5h5.8M720.5 487.5h-5.8M438.5 353.5h5.8M720.5 353.5h-5.8M438.5 220.5h5.8M720.5 220.5h-5.8M438.5 87.5h5.8M720.5 87.5h-5.8"/>
<rect class="fr" x="438.5" y="60.5" width="282.0" height="480.0"/>
<text class="t" transform="translate(437.88 560.00) scale(0.930 1.030)" text-anchor="middle">0</text>
<text class="t" transform="translate(469.19 560.00) scale(0.930 1.030)" text-anchor="middle">20</text>
<text class="t" transform="translate(500.51 560.00) scale(0.930 1.030)" text-anchor="middle">40</text>
<text class="t" transform="translate(531.82 560.00) scale(0.930 1.030)" text-anchor="middle">60</text>
<text class="t" transform="translate(563.13 560.00) scale(0.930 1.030)" text-anchor="middle">80</text>
<text class="t" transform="translate(594.85 560.00) scale(0.950 1.030)" text-anchor="middle">100</text>
<text class="t" transform="translate(626.16 560.00) scale(0.950 1.030)" text-anchor="middle">120</text>
<text class="t" transform="translate(657.47 560.00) scale(0.950 1.030)" text-anchor="middle">140</text>
<text class="t" transform="translate(688.79 560.00) scale(0.950 1.030)" text-anchor="middle">160</text>
<text class="t" transform="translate(720.10 560.00) scale(0.950 1.030)" text-anchor="middle">180</text>
<text class="t" transform="translate(433.00 491.67) scale(0.955 1.030)" text-anchor="end">4.0</text>
<text class="t" transform="translate(433.00 358.33) scale(0.955 1.030)" text-anchor="end">4.5</text>
<text class="t" transform="translate(433.00 225.00) scale(0.955 1.030)" text-anchor="end">5.0</text>
<text class="t" transform="translate(433.00 91.67) scale(0.955 1.030)" text-anchor="end">5.5</text>
<text class="b" transform="translate(579.90 52.30) scale(1.008 0.975)" text-anchor="middle">histogram of FWHM</text>
<text class="t" transform="translate(579.50 583.60) scale(1.000 1.040)" text-anchor="middle">number of sources</text>
<text class="t" transform="translate(395.50 300.50) rotate(-90) scale(1.000 1.040)" text-anchor="middle">FWHM of best-effort PSF-like sources</text>
</svg>
</body>
</html>
